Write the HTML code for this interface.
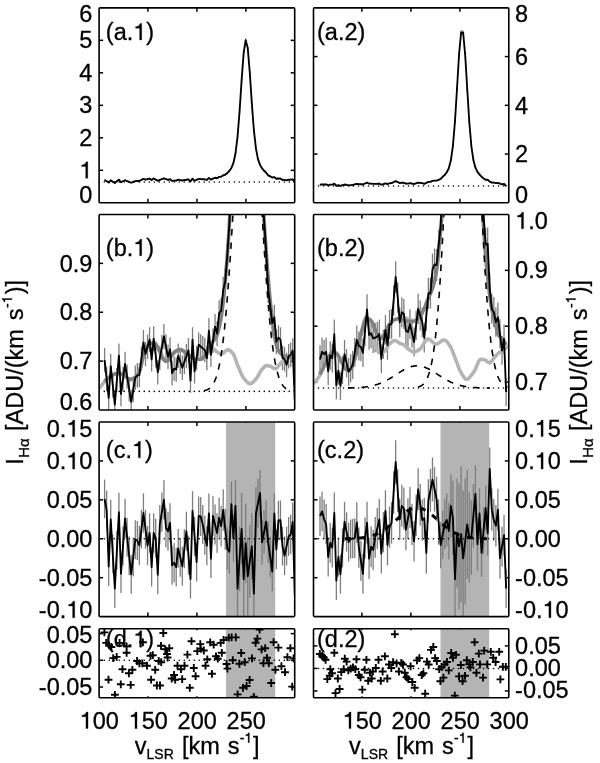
<!DOCTYPE html>
<html><head><meta charset="utf-8"><style>
html,body{margin:0;padding:0;background:#fff;}
svg{display:block;filter:blur(0.35px);}
text{font-family:"Liberation Sans", sans-serif;fill:#000;font-kerning:none;stroke:#000;stroke-width:0.3px;}
</style></head><body>
<svg width="600" height="763" viewBox="0 0 600 763">
<defs><clipPath id="cpaL"><rect x="99.1" y="7.85" width="195.60" height="194.95"/></clipPath><clipPath id="cpaR"><rect x="313.5" y="7.85" width="195.30" height="194.95"/></clipPath><clipPath id="cpbL"><rect x="99.1" y="214.5" width="195.60" height="195.50"/></clipPath><clipPath id="cpbR"><rect x="313.5" y="214.5" width="195.30" height="195.50"/></clipPath><clipPath id="cpcL"><rect x="99.1" y="422.0" width="195.60" height="194.60"/></clipPath><clipPath id="cpcR"><rect x="313.5" y="422.0" width="195.30" height="194.60"/></clipPath><clipPath id="cpdL"><rect x="99.1" y="628.8" width="195.60" height="68.90"/></clipPath><clipPath id="cpdR"><rect x="313.5" y="628.8" width="195.30" height="68.90"/></clipPath></defs>
<line x1="147.90" y1="7.85" x2="147.90" y2="11.85" stroke="#000" stroke-width="1.5"/>
<line x1="147.90" y1="202.8" x2="147.90" y2="198.8" stroke="#000" stroke-width="1.5"/>
<line x1="196.90" y1="7.85" x2="196.90" y2="11.85" stroke="#000" stroke-width="1.5"/>
<line x1="196.90" y1="202.8" x2="196.90" y2="198.8" stroke="#000" stroke-width="1.5"/>
<line x1="245.90" y1="7.85" x2="245.90" y2="11.85" stroke="#000" stroke-width="1.5"/>
<line x1="245.90" y1="202.8" x2="245.90" y2="198.8" stroke="#000" stroke-width="1.5"/>
<line x1="361.90" y1="7.85" x2="361.90" y2="11.85" stroke="#000" stroke-width="1.5"/>
<line x1="361.90" y1="202.8" x2="361.90" y2="198.8" stroke="#000" stroke-width="1.5"/>
<line x1="410.90" y1="7.85" x2="410.90" y2="11.85" stroke="#000" stroke-width="1.5"/>
<line x1="410.90" y1="202.8" x2="410.90" y2="198.8" stroke="#000" stroke-width="1.5"/>
<line x1="459.90" y1="7.85" x2="459.90" y2="11.85" stroke="#000" stroke-width="1.5"/>
<line x1="459.90" y1="202.8" x2="459.90" y2="198.8" stroke="#000" stroke-width="1.5"/>
<line x1="147.90" y1="214.5" x2="147.90" y2="218.5" stroke="#000" stroke-width="1.5"/>
<line x1="147.90" y1="410.0" x2="147.90" y2="406.0" stroke="#000" stroke-width="1.5"/>
<line x1="196.90" y1="214.5" x2="196.90" y2="218.5" stroke="#000" stroke-width="1.5"/>
<line x1="196.90" y1="410.0" x2="196.90" y2="406.0" stroke="#000" stroke-width="1.5"/>
<line x1="245.90" y1="214.5" x2="245.90" y2="218.5" stroke="#000" stroke-width="1.5"/>
<line x1="245.90" y1="410.0" x2="245.90" y2="406.0" stroke="#000" stroke-width="1.5"/>
<line x1="361.90" y1="214.5" x2="361.90" y2="218.5" stroke="#000" stroke-width="1.5"/>
<line x1="361.90" y1="410.0" x2="361.90" y2="406.0" stroke="#000" stroke-width="1.5"/>
<line x1="410.90" y1="214.5" x2="410.90" y2="218.5" stroke="#000" stroke-width="1.5"/>
<line x1="410.90" y1="410.0" x2="410.90" y2="406.0" stroke="#000" stroke-width="1.5"/>
<line x1="459.90" y1="214.5" x2="459.90" y2="218.5" stroke="#000" stroke-width="1.5"/>
<line x1="459.90" y1="410.0" x2="459.90" y2="406.0" stroke="#000" stroke-width="1.5"/>
<line x1="147.90" y1="422.0" x2="147.90" y2="426.0" stroke="#000" stroke-width="1.5"/>
<line x1="147.90" y1="616.6" x2="147.90" y2="612.6" stroke="#000" stroke-width="1.5"/>
<line x1="196.90" y1="422.0" x2="196.90" y2="426.0" stroke="#000" stroke-width="1.5"/>
<line x1="196.90" y1="616.6" x2="196.90" y2="612.6" stroke="#000" stroke-width="1.5"/>
<line x1="245.90" y1="422.0" x2="245.90" y2="426.0" stroke="#000" stroke-width="1.5"/>
<line x1="245.90" y1="616.6" x2="245.90" y2="612.6" stroke="#000" stroke-width="1.5"/>
<line x1="361.90" y1="422.0" x2="361.90" y2="426.0" stroke="#000" stroke-width="1.5"/>
<line x1="361.90" y1="616.6" x2="361.90" y2="612.6" stroke="#000" stroke-width="1.5"/>
<line x1="410.90" y1="422.0" x2="410.90" y2="426.0" stroke="#000" stroke-width="1.5"/>
<line x1="410.90" y1="616.6" x2="410.90" y2="612.6" stroke="#000" stroke-width="1.5"/>
<line x1="459.90" y1="422.0" x2="459.90" y2="426.0" stroke="#000" stroke-width="1.5"/>
<line x1="459.90" y1="616.6" x2="459.90" y2="612.6" stroke="#000" stroke-width="1.5"/>
<line x1="147.90" y1="628.8" x2="147.90" y2="630.3" stroke="#000" stroke-width="1.5"/>
<line x1="147.90" y1="697.7" x2="147.90" y2="696.2" stroke="#000" stroke-width="1.5"/>
<line x1="196.90" y1="628.8" x2="196.90" y2="630.3" stroke="#000" stroke-width="1.5"/>
<line x1="196.90" y1="697.7" x2="196.90" y2="696.2" stroke="#000" stroke-width="1.5"/>
<line x1="245.90" y1="628.8" x2="245.90" y2="630.3" stroke="#000" stroke-width="1.5"/>
<line x1="245.90" y1="697.7" x2="245.90" y2="696.2" stroke="#000" stroke-width="1.5"/>
<line x1="361.90" y1="628.8" x2="361.90" y2="630.3" stroke="#000" stroke-width="1.5"/>
<line x1="361.90" y1="697.7" x2="361.90" y2="696.2" stroke="#000" stroke-width="1.5"/>
<line x1="410.90" y1="628.8" x2="410.90" y2="630.3" stroke="#000" stroke-width="1.5"/>
<line x1="410.90" y1="697.7" x2="410.90" y2="696.2" stroke="#000" stroke-width="1.5"/>
<line x1="459.90" y1="628.8" x2="459.90" y2="630.3" stroke="#000" stroke-width="1.5"/>
<line x1="459.90" y1="697.7" x2="459.90" y2="696.2" stroke="#000" stroke-width="1.5"/>
<line x1="99.1" y1="170.31" x2="103.1" y2="170.31" stroke="#000" stroke-width="1.5"/>
<line x1="294.7" y1="170.31" x2="290.7" y2="170.31" stroke="#000" stroke-width="1.5"/>
<line x1="99.1" y1="137.82" x2="103.1" y2="137.82" stroke="#000" stroke-width="1.5"/>
<line x1="294.7" y1="137.82" x2="290.7" y2="137.82" stroke="#000" stroke-width="1.5"/>
<line x1="99.1" y1="105.33" x2="103.1" y2="105.33" stroke="#000" stroke-width="1.5"/>
<line x1="294.7" y1="105.33" x2="290.7" y2="105.33" stroke="#000" stroke-width="1.5"/>
<line x1="99.1" y1="72.83" x2="103.1" y2="72.83" stroke="#000" stroke-width="1.5"/>
<line x1="294.7" y1="72.83" x2="290.7" y2="72.83" stroke="#000" stroke-width="1.5"/>
<line x1="99.1" y1="40.34" x2="103.1" y2="40.34" stroke="#000" stroke-width="1.5"/>
<line x1="294.7" y1="40.34" x2="290.7" y2="40.34" stroke="#000" stroke-width="1.5"/>
<line x1="313.5" y1="154.06" x2="317.5" y2="154.06" stroke="#000" stroke-width="1.5"/>
<line x1="508.8" y1="154.06" x2="504.8" y2="154.06" stroke="#000" stroke-width="1.5"/>
<line x1="313.5" y1="105.33" x2="317.5" y2="105.33" stroke="#000" stroke-width="1.5"/>
<line x1="508.8" y1="105.33" x2="504.8" y2="105.33" stroke="#000" stroke-width="1.5"/>
<line x1="313.5" y1="56.59" x2="317.5" y2="56.59" stroke="#000" stroke-width="1.5"/>
<line x1="508.8" y1="56.59" x2="504.8" y2="56.59" stroke="#000" stroke-width="1.5"/>
<line x1="99.1" y1="361.12" x2="103.1" y2="361.12" stroke="#000" stroke-width="1.5"/>
<line x1="294.7" y1="361.12" x2="290.7" y2="361.12" stroke="#000" stroke-width="1.5"/>
<line x1="99.1" y1="312.25" x2="103.1" y2="312.25" stroke="#000" stroke-width="1.5"/>
<line x1="294.7" y1="312.25" x2="290.7" y2="312.25" stroke="#000" stroke-width="1.5"/>
<line x1="99.1" y1="263.38" x2="103.1" y2="263.38" stroke="#000" stroke-width="1.5"/>
<line x1="294.7" y1="263.38" x2="290.7" y2="263.38" stroke="#000" stroke-width="1.5"/>
<line x1="313.5" y1="382.07" x2="317.5" y2="382.07" stroke="#000" stroke-width="1.5"/>
<line x1="508.8" y1="382.07" x2="504.8" y2="382.07" stroke="#000" stroke-width="1.5"/>
<line x1="313.5" y1="326.21" x2="317.5" y2="326.21" stroke="#000" stroke-width="1.5"/>
<line x1="508.8" y1="326.21" x2="504.8" y2="326.21" stroke="#000" stroke-width="1.5"/>
<line x1="313.5" y1="270.36" x2="317.5" y2="270.36" stroke="#000" stroke-width="1.5"/>
<line x1="508.8" y1="270.36" x2="504.8" y2="270.36" stroke="#000" stroke-width="1.5"/>
<line x1="99.1" y1="577.68" x2="103.1" y2="577.68" stroke="#000" stroke-width="1.5"/>
<line x1="294.7" y1="577.68" x2="290.7" y2="577.68" stroke="#000" stroke-width="1.5"/>
<line x1="99.1" y1="538.76" x2="103.1" y2="538.76" stroke="#000" stroke-width="1.5"/>
<line x1="294.7" y1="538.76" x2="290.7" y2="538.76" stroke="#000" stroke-width="1.5"/>
<line x1="99.1" y1="499.84" x2="103.1" y2="499.84" stroke="#000" stroke-width="1.5"/>
<line x1="294.7" y1="499.84" x2="290.7" y2="499.84" stroke="#000" stroke-width="1.5"/>
<line x1="99.1" y1="460.92" x2="103.1" y2="460.92" stroke="#000" stroke-width="1.5"/>
<line x1="294.7" y1="460.92" x2="290.7" y2="460.92" stroke="#000" stroke-width="1.5"/>
<line x1="313.5" y1="577.68" x2="317.5" y2="577.68" stroke="#000" stroke-width="1.5"/>
<line x1="508.8" y1="577.68" x2="504.8" y2="577.68" stroke="#000" stroke-width="1.5"/>
<line x1="313.5" y1="538.76" x2="317.5" y2="538.76" stroke="#000" stroke-width="1.5"/>
<line x1="508.8" y1="538.76" x2="504.8" y2="538.76" stroke="#000" stroke-width="1.5"/>
<line x1="313.5" y1="499.84" x2="317.5" y2="499.84" stroke="#000" stroke-width="1.5"/>
<line x1="508.8" y1="499.84" x2="504.8" y2="499.84" stroke="#000" stroke-width="1.5"/>
<line x1="313.5" y1="460.92" x2="317.5" y2="460.92" stroke="#000" stroke-width="1.5"/>
<line x1="508.8" y1="460.92" x2="504.8" y2="460.92" stroke="#000" stroke-width="1.5"/>
<line x1="99.1" y1="687.02" x2="103.1" y2="687.02" stroke="#000" stroke-width="1.5"/>
<line x1="294.7" y1="687.02" x2="290.7" y2="687.02" stroke="#000" stroke-width="1.5"/>
<line x1="99.1" y1="660.31" x2="103.1" y2="660.31" stroke="#000" stroke-width="1.5"/>
<line x1="294.7" y1="660.31" x2="290.7" y2="660.31" stroke="#000" stroke-width="1.5"/>
<line x1="99.1" y1="633.61" x2="103.1" y2="633.61" stroke="#000" stroke-width="1.5"/>
<line x1="294.7" y1="633.61" x2="290.7" y2="633.61" stroke="#000" stroke-width="1.5"/>
<line x1="313.5" y1="690.95" x2="317.5" y2="690.95" stroke="#000" stroke-width="1.5"/>
<line x1="508.8" y1="690.95" x2="504.8" y2="690.95" stroke="#000" stroke-width="1.5"/>
<line x1="313.5" y1="668.43" x2="317.5" y2="668.43" stroke="#000" stroke-width="1.5"/>
<line x1="508.8" y1="668.43" x2="504.8" y2="668.43" stroke="#000" stroke-width="1.5"/>
<line x1="313.5" y1="645.91" x2="317.5" y2="645.91" stroke="#000" stroke-width="1.5"/>
<line x1="508.8" y1="645.91" x2="504.8" y2="645.91" stroke="#000" stroke-width="1.5"/>
<rect x="226.00" y="422.50" width="49.20" height="193.60" fill="#b4b4b4"/>
<rect x="440.50" y="422.50" width="48.70" height="193.60" fill="#b4b4b4"/>
<rect x="226.00" y="629.30" width="49.20" height="67.90" fill="#b4b4b4"/>
<rect x="440.50" y="629.30" width="48.70" height="67.90" fill="#b4b4b4"/>
<text x="105.84" y="39.90" font-size="23.5">(a. )</text><path d="M141.70,23.38L141.70,39.90L139.64,39.90L139.64,28.15L135.64,28.15L135.64,26.62C138.08,26.46 139.57,25.45 140.08,23.38Z" fill="#000" stroke="#000" stroke-width="0.3"/>
<text x="317.04" y="39.90" font-size="23.5">(a.2)</text>
<text x="105.84" y="255.70" font-size="23.5">(b. )</text><path d="M141.70,239.18L141.70,255.70L139.64,255.70L139.64,243.95L135.64,243.95L135.64,242.42C138.08,242.26 139.57,241.25 140.08,239.18Z" fill="#000" stroke="#000" stroke-width="0.3"/>
<text x="317.04" y="255.70" font-size="23.5">(b.2)</text>
<text x="105.84" y="457.80" font-size="23.5">(c. )</text><path d="M140.38,441.28L140.38,457.80L138.32,457.80L138.32,446.05L134.32,446.05L134.32,444.52C136.76,444.36 138.25,443.35 138.76,441.28Z" fill="#000" stroke="#000" stroke-width="0.3"/>
<text x="317.04" y="457.80" font-size="23.5">(c.2)</text>
<text x="105.84" y="647.30" font-size="23.5">(d. )</text><path d="M141.70,630.78L141.70,647.30L139.64,647.30L139.64,635.55L135.64,635.55L135.64,634.02C138.08,633.86 139.57,632.85 140.08,630.78Z" fill="#000" stroke="#000" stroke-width="0.3"/>
<text x="317.04" y="647.30" font-size="23.5">(d.2)</text>
<g clip-path="url(#cpaL)">
<line x1="99.30" y1="182.07" x2="297.60" y2="182.07" stroke="#000" stroke-width="1.6" stroke-linecap="round" stroke-dasharray="0.01 4.99"/>
<path d="M104.60,179.18V180.80 M106.64,180.43V182.06 M108.69,181.69V183.31 M110.73,179.58V181.21 M112.78,180.86V182.48 M114.82,182.13V183.76 M116.87,180.50V182.13 M118.91,178.88V180.50 M120.96,181.43V183.05 M123.00,180.43V182.06 M125.05,179.43V181.06 M127.09,180.27V181.90 M129.14,181.11V182.73 M131.19,181.95V183.57 M133.23,181.15V182.77 M135.27,180.35V181.97 M137.32,180.19V181.81 M139.37,180.17V181.80 M141.41,179.09V180.71 M143.45,177.99V179.63 M145.50,178.77V180.39 M147.54,178.29V179.92 M149.59,177.80V179.45 M151.63,179.13V180.75 M153.68,177.74V179.38 M155.72,178.87V180.49 M157.77,179.99V181.62 M159.81,179.04V180.67 M161.86,178.32V179.95 M163.91,177.59V179.24 M165.95,178.27V179.91 M168.00,178.95V180.57 M170.04,178.46V180.09 M172.08,180.05V181.67 M174.13,179.74V181.37 M176.18,179.80V181.42 M178.22,178.89V180.51 M180.26,179.29V180.91 M182.31,179.68V181.31 M184.35,179.30V180.92 M186.40,178.91V180.53 M188.44,178.52V180.15 M190.49,180.54V182.16 M192.53,177.80V179.45 M194.58,179.93V181.55 M196.62,179.04V180.67 M198.67,178.15V179.79 M200.71,178.27V179.90 M202.76,178.39V180.02 M204.81,178.51V180.14 M206.85,179.06V180.69 M208.89,177.20V178.86 M210.94,178.83V180.45 M212.98,177.88V179.52 M215.03,176.93V178.59 M217.07,177.40V179.05 M219.12,176.01V177.70 M221.16,175.85V177.54 M223.21,174.47V176.19 M225.25,173.86V175.60 M227.30,172.15V173.92 M229.34,170.05V171.87 M231.39,167.07V168.96 M233.44,161.96V163.94 M235.48,152.50V154.64 M237.52,135.69V138.08 M239.57,110.02V112.71 M241.61,78.86V81.86 M243.66,51.34V54.57 M245.70,38.59V41.91 M247.75,46.48V49.75 M249.79,71.13V74.20 M251.84,101.93V104.70 M253.88,128.84V131.31 M255.93,147.36V149.58 M257.98,158.12V160.16 M260.02,163.93V165.87 M262.06,167.38V169.26 M264.11,169.84V171.66 M266.15,171.87V173.65 M268.20,174.47V176.19 M270.25,175.58V177.28 M272.29,176.69V178.36 M274.33,176.31V177.99 M276.38,177.96V179.60 M278.42,177.67V179.32 M280.47,177.81V179.45 M282.51,179.02V180.64 M284.56,179.12V180.74 M286.61,179.49V181.12 M288.65,178.92V180.55 M290.69,178.82V180.45 M292.74,178.54V180.16 M294.78,181.83V183.45" stroke="#7d7d7d" stroke-width="1.3" fill="none"/>
<path d="M104.60,179.99 L106.64,181.24 L108.69,182.50 L110.73,180.39 L112.78,181.67 L114.82,182.95 L116.87,181.32 L118.91,179.69 L120.96,182.24 L123.00,181.24 L125.05,180.25 L127.09,181.08 L129.14,181.92 L131.19,182.76 L133.23,181.96 L135.27,181.16 L137.32,181.00 L139.37,180.98 L141.41,179.90 L143.45,178.81 L145.50,179.58 L147.54,179.10 L149.59,178.62 L151.63,179.94 L153.68,178.56 L155.72,179.68 L157.77,180.81 L159.81,179.85 L161.86,179.14 L163.91,178.42 L165.95,179.09 L168.00,179.76 L170.04,179.28 L172.08,180.86 L174.13,180.55 L176.18,180.61 L178.22,179.70 L180.26,180.10 L182.31,180.49 L184.35,180.11 L186.40,179.72 L188.44,179.34 L190.49,181.35 L192.53,178.62 L194.58,180.74 L196.62,179.85 L198.67,178.97 L200.71,179.09 L202.76,179.21 L204.81,179.32 L206.85,179.87 L208.89,178.03 L210.94,179.64 L212.98,178.70 L215.03,177.76 L217.07,178.23 L219.12,176.86 L221.16,176.70 L223.21,175.33 L225.25,174.73 L227.30,173.03 L229.34,170.96 L231.39,168.01 L233.44,162.95 L235.48,153.57 L237.52,136.88 L239.57,111.37 L241.61,80.36 L243.66,52.96 L245.70,40.25 L247.75,48.11 L249.79,72.66 L251.84,103.32 L253.88,130.08 L255.93,148.47 L257.98,159.14 L260.02,164.90 L262.06,168.32 L264.11,170.75 L266.15,172.76 L268.20,175.33 L270.25,176.43 L272.29,177.53 L274.33,177.15 L276.38,178.78 L278.42,178.49 L280.47,178.63 L282.51,179.83 L284.56,179.93 L286.61,180.31 L288.65,179.74 L290.69,179.64 L292.74,179.35 L294.78,182.64" stroke="#000" stroke-width="1.85" fill="none" stroke-linejoin="round"/>
</g>
<g clip-path="url(#cpaR)">
<line x1="313.50" y1="185.99" x2="511.80" y2="185.99" stroke="#000" stroke-width="1.6" stroke-linecap="round" stroke-dasharray="0.01 4.99"/>
<path d="M320.00,184.14V185.38 M322.05,183.80V185.05 M324.09,183.90V185.15 M326.13,183.80V185.05 M328.18,184.66V185.88 M330.23,183.96V185.20 M332.27,184.09V185.32 M334.31,183.01V184.29 M336.36,185.28V186.50 M338.40,184.64V185.86 M340.45,185.30V186.52 M342.50,184.61V185.83 M344.54,183.90V185.15 M346.58,184.30V185.53 M348.63,184.69V185.91 M350.68,184.53V185.75 M352.72,184.37V185.60 M354.76,183.82V185.07 M356.81,183.27V184.54 M358.86,183.54V184.80 M360.90,183.58V184.84 M362.94,183.84V185.09 M364.99,182.88V184.16 M367.03,181.91V183.23 M369.08,183.05V184.33 M371.12,182.97V184.25 M373.17,183.20V184.47 M375.21,183.16V184.44 M377.26,183.13V184.40 M379.31,183.01V184.29 M381.35,184.11V185.35 M383.39,183.46V184.73 M385.44,182.82V184.10 M387.49,183.50V184.76 M389.53,182.59V183.89 M391.57,182.56V183.85 M393.62,181.52V182.85 M395.66,180.47V181.84 M397.71,181.38V182.72 M399.75,182.49V183.79 M401.80,182.04V183.35 M403.85,182.12V183.43 M405.89,182.87V184.16 M407.94,182.92V184.20 M409.98,182.57V183.86 M412.02,182.96V184.24 M414.07,183.36V184.63 M416.12,182.62V183.92 M418.16,181.89V183.20 M420.20,182.19V183.50 M422.25,182.49V183.79 M424.30,183.17V184.45 M426.34,182.19V183.50 M428.38,181.21V182.55 M430.43,181.18V182.53 M432.48,180.15V181.52 M434.52,179.92V181.31 M436.56,179.94V181.33 M438.61,179.09V180.50 M440.65,178.26V179.70 M442.70,176.04V177.55 M444.75,174.03V175.61 M446.79,171.40V173.06 M448.84,167.21V168.98 M450.88,159.36V161.34 M452.92,144.65V146.98 M454.97,120.11V122.94 M457.01,86.73V90.15 M459.06,52.49V56.43 M461.11,30.34V34.60 M463.15,30.59V34.84 M465.19,53.08V57.01 M467.24,87.33V90.73 M469.28,120.41V123.23 M471.33,144.60V146.93 M473.38,159.09V161.08 M475.42,166.82V168.60 M477.47,170.99V172.65 M479.51,173.69V175.28 M481.56,175.89V177.41 M483.60,177.78V179.24 M485.64,179.04V180.45 M487.69,179.00V180.42 M489.74,180.99V182.34 M491.78,181.88V183.20 M493.82,182.03V183.34 M495.87,182.47V183.77 M497.91,182.27V183.57 M499.96,183.00V184.28 M502.00,183.74V184.99 M504.05,183.23V184.50 M506.10,185.57V186.78" stroke="#7d7d7d" stroke-width="1.3" fill="none"/>
<path d="M320.00,184.76 L322.05,184.42 L324.09,184.53 L326.13,184.42 L328.18,185.27 L330.23,184.58 L332.27,184.70 L334.31,183.65 L336.36,185.89 L338.40,185.25 L340.45,185.91 L342.50,185.22 L344.54,184.53 L346.58,184.91 L348.63,185.30 L350.68,185.14 L352.72,184.99 L354.76,184.45 L356.81,183.91 L358.86,184.17 L360.90,184.21 L362.94,184.46 L364.99,183.52 L367.03,182.57 L369.08,183.69 L371.12,183.61 L373.17,183.84 L375.21,183.80 L377.26,183.76 L379.31,183.65 L381.35,184.73 L383.39,184.09 L385.44,183.46 L387.49,184.13 L389.53,183.24 L391.57,183.20 L393.62,182.18 L395.66,181.16 L397.71,182.05 L399.75,183.14 L401.80,182.69 L403.85,182.77 L405.89,183.51 L407.94,183.56 L409.98,183.21 L412.02,183.60 L414.07,183.99 L416.12,183.27 L418.16,182.55 L420.20,182.84 L422.25,183.14 L424.30,183.81 L426.34,182.84 L428.38,181.88 L430.43,181.86 L432.48,180.84 L434.52,180.61 L436.56,180.63 L438.61,179.80 L440.65,178.98 L442.70,176.79 L444.75,174.82 L446.79,172.23 L448.84,168.09 L450.88,160.35 L452.92,145.81 L454.97,121.52 L457.01,88.44 L459.06,54.46 L461.11,32.47 L463.15,32.72 L465.19,55.04 L467.24,89.03 L469.28,121.82 L471.33,145.77 L473.38,160.09 L475.42,167.71 L477.47,171.82 L479.51,174.49 L481.56,176.65 L483.60,178.51 L485.64,179.74 L487.69,179.71 L489.74,181.66 L491.78,182.54 L493.82,182.68 L495.87,183.12 L497.91,182.92 L499.96,183.64 L502.00,184.36 L504.05,183.86 L506.10,186.18" stroke="#000" stroke-width="1.85" fill="none" stroke-linejoin="round"/>
</g>
<g clip-path="url(#cpbL)">
<path d="M104.60,347.88V372.32 M106.64,366.78V391.22 M108.69,385.68V410.12 M110.73,353.98V378.42 M112.78,373.18V397.62 M114.82,392.38V416.82 M116.87,367.88V392.32 M118.91,343.38V367.82 M120.96,381.78V406.22 M123.00,366.78V391.22 M125.05,351.78V376.22 M127.09,364.38V388.82 M129.14,376.98V401.42 M131.19,389.58V414.02 M133.23,377.53V401.97 M135.27,365.48V389.92 M137.32,363.08V387.52 M139.37,362.88V387.32 M141.41,346.53V370.97 M143.45,330.07V354.73 M145.50,341.78V366.22 M147.54,334.52V359.08 M149.59,327.23V351.97 M151.63,347.18V371.62 M153.68,326.22V350.98 M155.72,343.28V367.72 M157.77,360.18V384.62 M159.81,345.88V370.32 M161.86,335.03V359.57 M163.91,324.09V348.91 M165.95,334.32V358.88 M168.00,344.48V368.92 M170.04,337.16V361.64 M172.08,360.98V385.42 M174.13,356.38V380.82 M176.18,357.28V381.72 M178.22,343.58V368.02 M180.26,349.53V373.97 M182.31,355.48V379.92 M184.35,349.68V374.12 M186.40,343.88V368.32 M188.44,338.07V362.53 M190.49,368.38V392.82 M192.53,327.23V351.97 M194.58,359.18V383.62 M196.62,345.88V370.32 M198.67,332.50V357.10 M200.71,334.29V358.85 M202.76,336.08V360.59 M204.81,337.87V362.33 M206.85,346.18V370.62 M208.89,318.22V343.18 M210.94,342.68V367.12 M212.98,328.40V353.10 M215.03,314.07V339.13 M217.07,321.16V346.04 M219.12,300.30V325.70 M221.16,297.88V323.32 M223.21,277.03V302.97 M225.25,267.96V294.10 M227.30,242.15V268.86 M229.34,210.62V238.01 M231.39,165.85V194.15 M233.44,88.90V118.66 M235.48,-53.34V-21.16 M237.52,-306.20V-270.35 M239.57,-692.34V-651.87 M241.61,-1161.06V-1115.97 M243.66,-1575.01V-1526.43 M245.70,-1766.92V-1716.85 M247.75,-1648.21V-1599.05 M249.79,-1277.36V-1231.25 M251.84,-814.11V-772.36 M253.88,-409.25V-372.08 M255.93,-130.69V-97.32 M257.98,31.14V61.92 M260.02,118.57V147.79 M262.06,170.50V198.70 M264.11,207.45V234.90 M266.15,238.03V264.83 M268.20,277.03V302.97 M270.25,293.78V319.32 M272.29,310.53V335.67 M274.33,304.76V330.04 M276.38,329.56V354.24 M278.42,325.21V349.99 M280.47,327.33V352.07 M282.51,345.48V369.92 M284.56,346.98V371.42 M286.61,352.68V377.12 M288.65,344.08V368.52 M290.69,342.58V367.02 M292.74,338.27V362.73 M294.78,387.78V412.22" stroke="#7d7d7d" stroke-width="1.3" fill="none"/>
<path d="M98.90,388.50 L99.39,387.91 L99.88,387.32 L100.37,386.74 L100.86,386.15 L101.35,385.57 L101.84,384.98 L102.33,384.40 L102.82,383.81 L103.31,383.20 L103.80,382.58 L104.30,381.96 L104.79,381.35 L105.28,380.77 L105.77,380.23 L106.26,379.73 L106.75,379.29 L107.24,378.86 L107.73,378.44 L108.22,378.04 L108.71,377.66 L109.20,377.29 L109.69,376.93 L110.18,376.59 L110.67,376.27 L111.16,375.96 L111.65,375.67 L112.14,375.39 L112.63,375.13 L113.12,374.86 L113.61,374.58 L114.10,374.30 L114.60,374.03 L115.09,373.79 L115.58,373.59 L116.07,373.43 L116.56,373.33 L117.05,373.30 L117.54,373.30 L118.03,373.31 L118.52,373.33 L119.01,373.35 L119.50,373.37 L119.99,373.40 L120.48,373.47 L120.97,373.63 L121.46,373.87 L121.95,374.15 L122.44,374.49 L122.93,374.85 L123.42,375.22 L123.91,375.59 L124.40,375.95 L124.90,376.28 L125.39,376.58 L125.88,376.92 L126.37,377.28 L126.86,377.67 L127.35,378.05 L127.84,378.41 L128.33,378.74 L128.82,379.02 L129.31,379.23 L129.80,379.36 L130.29,379.40 L130.78,379.35 L131.27,379.25 L131.76,379.10 L132.25,378.90 L132.74,378.67 L133.23,378.42 L133.72,378.15 L134.21,377.87 L134.70,377.58 L135.20,377.24 L135.69,376.85 L136.18,376.39 L136.67,375.88 L137.16,375.30 L137.65,374.66 L138.14,373.93 L138.63,373.00 L139.12,371.88 L139.61,370.60 L140.10,369.20 L140.59,367.67 L141.08,365.73 L141.57,363.48 L142.06,361.15 L142.55,358.97 L143.04,357.16 L143.53,355.63 L144.02,354.22 L144.51,352.92 L145.00,351.73 L145.50,350.62 L145.99,349.57 L146.48,348.50 L146.97,347.46 L147.46,346.50 L147.95,345.66 L148.44,345.00 L148.93,344.54 L149.42,344.26 L149.91,344.00 L150.40,343.75 L150.89,343.53 L151.38,343.34 L151.87,343.17 L152.36,343.03 L152.85,342.92 L153.34,342.85 L153.83,342.81 L154.32,342.83 L154.81,343.09 L155.30,343.58 L155.80,344.23 L156.29,344.99 L156.78,345.81 L157.27,346.63 L157.76,347.42 L158.25,348.34 L158.74,349.37 L159.23,350.44 L159.72,351.51 L160.21,352.54 L160.70,353.66 L161.19,354.83 L161.68,355.99 L162.17,357.09 L162.66,358.05 L163.15,358.82 L163.64,359.40 L164.13,359.97 L164.62,360.49 L165.11,360.91 L165.60,361.19 L166.10,361.30 L166.59,361.21 L167.08,360.94 L167.57,360.53 L168.06,360.02 L168.55,359.43 L169.04,358.79 L169.53,358.13 L170.02,357.50 L170.51,356.91 L171.00,356.37 L171.49,355.78 L171.98,355.16 L172.47,354.52 L172.96,353.89 L173.45,353.27 L173.94,352.70 L174.43,352.19 L174.92,351.76 L175.41,351.43 L175.90,351.13 L176.40,350.84 L176.89,350.57 L177.38,350.31 L177.87,350.08 L178.36,349.89 L178.85,349.74 L179.34,349.64 L179.83,349.60 L180.32,349.63 L180.81,349.72 L181.30,349.87 L181.79,350.08 L182.28,350.32 L182.77,350.60 L183.26,350.90 L183.75,351.22 L184.24,351.55 L184.73,351.87 L185.22,352.19 L185.71,352.50 L186.20,352.86 L186.70,353.24 L187.19,353.66 L187.68,354.09 L188.17,354.52 L188.66,354.94 L189.15,355.36 L189.64,355.74 L190.13,356.09 L190.62,356.44 L191.11,356.81 L191.60,357.17 L192.09,357.54 L192.58,357.88 L193.07,358.20 L193.56,358.48 L194.05,358.71 L194.54,358.89 L195.03,359.01 L195.52,359.09 L196.01,359.16 L196.50,359.23 L197.00,359.30 L197.49,359.36 L197.98,359.40 L198.47,359.44 L198.96,359.47 L199.45,359.49 L199.94,359.50 L200.43,359.47 L200.92,359.36 L201.41,359.19 L201.90,358.97 L202.39,358.69 L202.88,358.37 L203.37,358.02 L203.86,357.65 L204.35,357.26 L204.84,356.86 L205.33,356.47 L205.82,356.01 L206.31,355.43 L206.80,354.77 L207.30,354.06 L207.79,353.32 L208.28,352.59 L208.77,351.89 L209.26,351.26 L209.75,350.73 L210.24,350.30 L210.73,349.87 L211.22,349.45 L211.71,349.09 L212.20,348.83 L212.69,348.70 L213.18,348.75 L213.67,348.95 L214.16,349.26 L214.65,349.67 L215.14,350.13 L215.63,350.62 L216.12,351.11 L216.61,351.57 L217.10,351.95 L217.60,352.25 L218.09,352.52 L218.58,352.80 L219.07,353.07 L219.56,353.32 L220.05,353.55 L220.54,353.72 L221.03,353.85 L221.52,353.90 L222.01,353.85 L222.50,353.68 L222.99,353.40 L223.48,353.05 L223.97,352.63 L224.46,352.17 L224.95,351.70 L225.44,351.24 L225.93,350.81 L226.42,350.42 L226.91,350.11 L227.40,349.90 L227.90,349.80 L228.39,349.83 L228.88,349.97 L229.37,350.20 L229.86,350.51 L230.35,350.89 L230.84,351.33 L231.33,351.81 L231.82,352.33 L232.31,352.86 L232.80,353.42 L233.29,354.12 L233.78,355.02 L234.27,356.08 L234.76,357.27 L235.25,358.56 L235.74,359.92 L236.23,361.31 L236.72,362.71 L237.21,364.08 L237.70,365.39 L238.20,366.60 L238.69,367.71 L239.18,368.82 L239.67,369.95 L240.16,371.09 L240.65,372.22 L241.14,373.33 L241.63,374.41 L242.12,375.43 L242.61,376.39 L243.10,377.27 L243.59,378.06 L244.08,378.74 L244.57,379.31 L245.06,379.88 L245.55,380.43 L246.04,380.98 L246.53,381.50 L247.02,381.98 L247.51,382.43 L248.00,382.82 L248.50,383.15 L248.99,383.41 L249.48,383.59 L249.97,383.69 L250.46,383.68 L250.95,383.58 L251.44,383.37 L251.93,383.09 L252.42,382.73 L252.91,382.31 L253.40,381.84 L253.89,381.33 L254.38,380.80 L254.87,380.25 L255.36,379.70 L255.85,379.16 L256.34,378.60 L256.83,377.94 L257.32,377.18 L257.81,376.35 L258.30,375.48 L258.80,374.57 L259.29,373.67 L259.78,372.77 L260.27,371.91 L260.76,371.11 L261.25,370.39 L261.74,369.77 L262.23,369.21 L262.72,368.63 L263.21,368.04 L263.70,367.48 L264.19,366.95 L264.68,366.48 L265.17,366.10 L265.66,365.81 L266.15,365.64 L266.64,365.60 L267.13,365.63 L267.62,365.69 L268.11,365.77 L268.60,365.87 L269.10,365.98 L269.59,366.10 L270.08,366.22 L270.57,366.39 L271.06,366.61 L271.55,366.88 L272.04,367.18 L272.53,367.48 L273.02,367.78 L273.51,368.06 L274.00,368.30 L274.49,368.47 L274.98,368.58 L275.47,368.59 L275.96,368.45 L276.45,368.16 L276.94,367.76 L277.43,367.25 L277.92,366.67 L278.41,366.03 L278.90,365.36 L279.40,364.68 L279.89,364.02 L280.38,363.39 L280.87,362.83 L281.36,362.35 L281.85,361.97 L282.34,361.63 L282.83,361.30 L283.32,360.96 L283.81,360.62 L284.30,360.29 L284.79,359.97 L285.28,359.66 L285.77,359.37 L286.26,359.11 L286.75,358.86 L287.24,358.64 L287.73,358.46 L288.22,358.31 L288.71,358.19 L289.20,358.12 L289.70,358.10 L290.19,358.12 L290.68,358.18 L291.17,358.29 L291.66,358.43 L292.15,358.60 L292.64,358.82 L293.13,359.07 L293.62,359.35 L294.11,359.66 L294.60,360.00" stroke="#b4b4b4" stroke-width="3.6" fill="none"/>
<path d="M104.60,381.58 L104.92,381.19 L105.24,380.82 L105.55,380.46 L105.87,380.12 L106.19,379.80 L106.51,379.50 L106.82,379.22 L107.14,378.94 L107.46,378.67 L107.78,378.40 L108.09,378.14 L108.41,377.89 L108.73,377.64 L109.05,377.40 L109.36,377.17 L109.68,376.94 L110.00,376.72 L110.32,376.50 L110.63,376.30 L110.95,376.09 L111.27,375.90 L111.59,375.71 L111.90,375.53 L112.22,375.35 L112.54,375.18 L112.86,375.01 L113.17,374.83 L113.49,374.65 L113.81,374.47 L114.13,374.29 L114.44,374.11 L114.76,373.95 L115.08,373.80 L115.40,373.66 L115.71,373.54 L116.03,373.44 L116.35,373.37 L116.67,373.32 L116.98,373.30 L117.30,373.30 L117.62,373.31 L117.94,373.31 L118.25,373.32 L118.57,373.33 L118.89,373.34 L119.21,373.36 L119.52,373.37 L119.84,373.39 L120.16,373.41 L120.48,373.47 L120.79,373.57 L121.11,373.69 L121.43,373.85 L121.75,374.03 L122.06,374.23 L122.38,374.44 L122.70,374.67 L123.02,374.91 L123.33,375.15 L123.65,375.39 L123.97,375.63 L124.29,375.86 L124.60,376.08 L124.92,376.29 L125.24,376.48 L125.56,376.69 L125.87,376.91 L126.19,377.15 L126.51,377.39 L126.83,377.64 L127.14,377.89 L127.46,378.13 L127.78,378.37 L128.10,378.59 L128.41,378.79 L128.73,378.97 L129.05,379.13 L129.37,379.25 L129.68,379.34 L130.00,379.39 L130.32,379.40 L130.64,379.37 L130.95,379.32 L131.27,379.25 L131.59,379.16 L131.91,379.05 L132.22,378.92 L132.54,378.77 L132.86,378.62 L133.18,378.45 L133.49,378.28 L133.81,378.10 L134.13,377.91 L134.45,377.73 L134.76,377.54 L135.08,377.32 L135.40,377.09 L135.72,376.82 L136.03,376.53 L136.35,376.22 L136.67,375.87 L136.99,375.51 L137.30,375.11 L137.62,374.69 L137.94,374.24 L138.26,373.73 L138.57,373.12 L138.89,372.42 L139.21,371.66 L139.53,370.83 L139.84,369.95 L140.16,369.02 L140.48,368.05 L140.80,366.91 L141.11,365.59 L141.43,364.14 L141.75,362.64 L142.07,361.13 L142.38,359.69 L142.70,358.38 L143.02,357.24 L143.34,356.23 L143.65,355.28 L143.97,354.37 L144.29,353.51 L144.61,352.69 L144.92,351.92 L145.24,351.18 L145.56,350.49 L145.88,349.81 L146.19,349.12 L146.51,348.43 L146.83,347.75 L147.15,347.10 L147.46,346.49 L147.78,345.93 L148.10,345.44 L148.42,345.02 L148.73,344.70 L149.05,344.47 L149.37,344.29 L149.69,344.12 L150.00,343.95 L150.32,343.79 L150.64,343.64 L150.96,343.51 L151.27,343.38 L151.59,343.26 L151.91,343.16 L152.23,343.06 L152.54,342.99 L152.86,342.92 L153.18,342.87 L153.50,342.83 L153.81,342.81 L154.13,342.80 L154.45,342.87 L154.77,343.06 L155.08,343.34 L155.40,343.69 L155.72,344.12 L156.04,344.59 L156.35,345.10 L156.67,345.63 L156.99,346.17 L157.31,346.69 L157.62,347.20 L157.94,347.75 L158.26,348.37 L158.58,349.02 L158.89,349.70 L159.21,350.40 L159.53,351.10 L159.85,351.78 L160.16,352.44 L160.48,353.15 L160.80,353.89 L161.12,354.65 L161.43,355.41 L161.75,356.15 L162.07,356.86 L162.39,357.53 L162.70,358.12 L163.02,358.63 L163.34,359.04 L163.66,359.42 L163.97,359.79 L164.29,360.14 L164.61,360.47 L164.93,360.76 L165.24,361.00 L165.56,361.17 L165.88,361.28 L166.20,361.30 L166.51,361.23 L166.83,361.09 L167.15,360.89 L167.47,360.63 L167.78,360.32 L168.10,359.97 L168.42,359.59 L168.74,359.18 L169.05,358.77 L169.37,358.34 L169.69,357.92 L170.01,357.51 L170.32,357.12 L170.64,356.76 L170.96,356.42 L171.28,356.05 L171.59,355.66 L171.91,355.25 L172.23,354.84 L172.55,354.43 L172.86,354.01 L173.18,353.61 L173.50,353.22 L173.82,352.84 L174.13,352.49 L174.45,352.17 L174.77,351.89 L175.09,351.64 L175.40,351.44 L175.72,351.24 L176.04,351.05 L176.36,350.87 L176.67,350.68 L176.99,350.51 L177.31,350.34 L177.63,350.19 L177.94,350.05 L178.26,349.92 L178.58,349.82 L178.90,349.73 L179.21,349.66 L179.53,349.62 L179.85,349.60 L180.17,349.61 L180.48,349.65 L180.80,349.72 L181.12,349.81 L181.44,349.92 L181.75,350.06 L182.07,350.21 L182.39,350.38 L182.71,350.56 L183.02,350.75 L183.34,350.95 L183.66,351.16 L183.98,351.37 L184.29,351.58 L184.61,351.79 L184.93,352.00 L185.25,352.20 L185.56,352.40 L185.88,352.62 L186.20,352.85 L186.52,353.10 L186.83,353.36 L187.15,353.63 L187.47,353.90 L187.79,354.18 L188.10,354.46 L188.42,354.74 L188.74,355.01 L189.06,355.28 L189.37,355.53 L189.69,355.77 L190.01,356.00 L190.33,356.22 L190.64,356.45 L190.96,356.69 L191.28,356.92 L191.60,357.16 L191.91,357.39 L192.23,357.62 L192.55,357.84 L192.87,358.05 L193.18,358.24 L193.50,358.42 L193.82,358.58 L194.14,358.71 L194.45,358.83 L194.77,358.91 L195.09,358.97 L195.41,359.02 L195.72,359.07 L196.04,359.11 L196.36,359.15 L196.68,359.18 L196.99,359.22 L197.31,359.24 L197.63,359.27 L197.95,359.29 L198.26,359.30 L198.58,359.31 L198.90,359.32 L199.22,359.32 L199.53,359.31 L199.85,359.29 L200.17,359.27 L200.49,359.21 L200.80,359.12 L201.12,359.00 L201.44,358.84 L201.76,358.67 L202.07,358.46 L202.39,358.24 L202.71,357.99 L203.03,357.73 L203.34,357.45 L203.66,357.15 L203.98,356.84 L204.30,356.52 L204.61,356.20 L204.93,355.86 L205.25,355.52 L205.57,355.16 L205.88,354.73 L206.20,354.25 L206.52,353.73 L206.84,353.16 L207.15,352.56 L207.47,351.94 L207.79,351.30 L208.11,350.65 L208.42,350.00 L208.74,349.35 L209.06,348.72 L209.38,348.10 L209.69,347.51 L210.01,346.95 L210.33,346.40 L210.65,345.81 L210.96,345.20 L211.28,344.59 L211.60,343.98 L211.92,343.38 L212.23,342.80 L212.55,342.25 L212.87,341.75 L213.19,341.28 L213.50,340.84 L213.82,340.42 L214.14,340.01 L214.46,339.60 L214.77,339.18 L215.09,338.74 L215.41,338.27 L215.73,337.75 L216.04,337.19 L216.36,336.56 L216.68,335.86 L217.00,335.07 L217.31,334.19 L217.63,333.21 L217.95,332.17 L218.27,331.07 L218.58,329.90 L218.90,328.67 L219.22,327.35 L219.54,325.96 L219.85,324.48 L220.17,322.90 L220.49,321.22 L220.81,319.44 L221.12,317.55 L221.44,315.55 L221.76,313.41 L222.08,311.14 L222.39,308.72 L222.71,306.16 L223.03,303.46 L223.35,300.63 L223.66,297.67 L223.98,294.59 L224.30,291.38 L224.62,288.06 L224.93,284.62 L225.25,281.07 L225.57,277.41 L225.89,273.63 L226.20,269.75 L226.52,265.76 L226.84,261.66 L227.16,257.45 L227.47,253.11 L227.79,248.65 L228.11,244.05 L228.43,239.29 L228.74,234.33 L229.06,229.15 L229.38,223.72 L229.70,217.98 L230.01,211.89 L230.33,205.40 L230.65,198.45 L230.97,190.96 L231.28,182.85 L231.60,174.04 L231.92,164.41 L232.24,153.87 L232.55,142.28 L232.87,129.54 L233.19,115.55 L233.51,100.18 L233.82,83.26 L234.14,64.61 L234.46,44.04 L234.78,21.37 L235.09,-3.59 L235.41,-31.01 L235.73,-61.09 L236.05,-94.00 L236.36,-129.88 L236.68,-168.87 L237.00,-211.08 L237.32,-256.60 L237.63,-305.47 L237.95,-357.69 L238.27,-413.23 L238.59,-471.99 L238.90,-533.78 L239.22,-598.37 L239.54,-665.49 L239.86,-734.82 L240.17,-805.99 L240.49,-878.54 L240.81,-951.98 L241.13,-1025.76 L241.44,-1099.30 L241.76,-1171.96 L242.08,-1243.08 L242.40,-1311.98 L242.71,-1377.98 L243.03,-1440.39 L243.35,-1498.55 L243.67,-1551.81 L243.98,-1599.58 L244.30,-1641.30 L244.62,-1676.46 L244.94,-1704.61 L245.25,-1725.42 L245.57,-1738.64 L245.89,-1744.12 L246.21,-1741.79 L246.52,-1731.70 L246.84,-1713.98 L247.16,-1688.87 L247.48,-1656.68 L247.79,-1617.81 L248.11,-1572.75 L248.43,-1522.03 L248.75,-1466.24 L249.06,-1406.02 L249.38,-1342.05 L249.70,-1274.99 L250.02,-1205.55 L250.33,-1134.40 L250.65,-1062.22 L250.97,-989.63 L251.29,-917.24 L251.60,-845.60 L251.92,-775.21 L252.24,-706.54 L252.56,-639.96 L252.87,-575.82 L253.19,-514.39 L253.51,-455.88 L253.83,-400.45 L254.14,-348.21 L254.46,-299.21 L254.78,-253.46 L255.10,-210.92 L255.41,-171.53 L255.73,-135.18 L256.05,-101.76 L256.37,-71.15 L256.68,-43.21 L257.00,-17.77 L257.32,5.35 L257.64,26.33 L257.95,45.36 L258.27,62.62 L258.59,78.27 L258.91,92.49 L259.22,105.43 L259.54,117.24 L259.86,128.05 L260.18,138.00 L260.49,147.18 L260.81,155.71 L261.13,163.68 L261.45,171.16 L261.76,178.24 L262.08,184.95 L262.40,191.30 L262.72,197.35 L263.03,203.13 L263.35,208.68 L263.67,214.03 L263.99,219.21 L264.30,224.24 L264.62,229.14 L264.94,233.92 L265.26,238.61 L265.57,243.21 L265.89,247.73 L266.21,252.19 L266.53,256.59 L266.84,260.91 L267.16,265.14 L267.48,269.26 L267.80,273.28 L268.11,277.21 L268.43,281.03 L268.75,284.75 L269.07,288.37 L269.38,291.88 L269.70,295.29 L270.02,298.59 L270.34,301.81 L270.65,304.94 L270.97,308.01 L271.29,310.98 L271.61,313.88 L271.92,316.68 L272.24,319.40 L272.56,322.02 L272.88,324.54 L273.19,326.96 L273.51,329.28 L273.83,331.50 L274.15,333.60 L274.46,335.60 L274.78,337.48 L275.10,339.25 L275.42,340.91 L275.73,342.42 L276.05,343.79 L276.37,345.03 L276.69,346.15 L277.00,347.16 L277.32,348.07 L277.64,348.88 L277.96,349.60 L278.27,350.24 L278.59,350.81 L278.91,351.32 L279.23,351.77 L279.54,352.18 L279.86,352.55 L280.18,352.89 L280.50,353.21 L280.81,353.52 L281.13,353.82 L281.45,354.12 L281.77,354.44 L282.08,354.75 L282.40,355.02 L282.72,355.27 L283.04,355.48 L283.35,355.67 L283.67,355.83 L283.99,355.97 L284.31,356.09 L284.62,356.19 L284.94,356.28 L285.26,356.35 L285.58,356.41 L285.89,356.47 L286.21,356.51 L286.53,356.55 L286.85,356.59 L287.16,356.63 L287.48,356.66 L287.80,356.70 L288.12,356.74 L288.43,356.79 L288.75,356.84 L289.07,356.91 L289.39,356.98 L289.70,357.06 L290.02,357.16 L290.34,357.27 L290.66,357.39 L290.97,357.52 L291.29,357.66 L291.61,357.81 L291.93,357.97 L292.24,358.14 L292.56,358.33 L292.88,358.52 L293.20,358.73 L293.51,358.94 L293.83,359.17 L294.15,359.40 L294.47,359.65 L294.78,359.90" stroke="#808080" stroke-width="3.6" fill="none"/>
<line x1="99.30" y1="391.40" x2="297.60" y2="391.40" stroke="#000" stroke-width="1.6" stroke-linecap="round" stroke-dasharray="0.01 4.99"/>
<path d="M204.00,390.68 L204.27,390.63 L204.55,390.56 L204.82,390.50 L205.10,390.42 L205.37,390.35 L205.65,390.26 L205.92,390.17 L206.20,390.08 L206.47,389.98 L206.75,389.87 L207.02,389.75 L207.30,389.63 L207.57,389.50 L207.85,389.35 L208.12,389.20 L208.40,389.04 L208.67,388.87 L208.95,388.69 L209.22,388.49 L209.50,388.29 L209.77,388.07 L210.05,387.83 L210.32,387.58 L210.60,387.32 L210.87,387.04 L211.15,386.74 L211.42,386.43 L211.70,386.09 L211.97,385.74 L212.25,385.37 L212.52,384.97 L212.80,384.56 L213.07,384.12 L213.35,383.65 L213.62,383.16 L213.90,382.65 L214.17,382.10 L214.45,381.53 L214.72,380.92 L215.00,380.29 L215.27,379.62 L215.55,378.92 L215.82,378.18 L216.10,377.40 L216.37,376.59 L216.65,375.74 L216.92,374.85 L217.20,373.91 L217.47,372.94 L217.75,371.91 L218.02,370.84 L218.30,369.73 L218.57,368.56 L218.85,367.34 L219.12,366.07 L219.40,364.75 L219.67,363.37 L219.95,361.93 L220.22,360.44 L220.49,358.88 L220.77,357.27 L221.04,355.59 L221.32,353.85 L221.59,352.04 L221.87,350.17 L222.14,348.23 L222.42,346.22 L222.69,344.14 L222.97,341.99 L223.24,339.76 L223.52,337.47 L223.79,335.10 L224.07,332.65 L224.34,330.13 L224.62,327.53 L224.89,324.85 L225.17,322.10 L225.44,319.27 L225.72,316.36 L225.99,313.37 L226.27,310.30 L226.54,307.15 L226.82,303.93 L227.09,300.63 L227.37,297.24 L227.64,293.79 L227.92,290.25 L228.19,286.64 L228.47,282.95 L228.74,279.19 L229.02,275.35 L229.29,271.45 L229.57,267.47 L229.84,263.43 L230.12,259.32 L230.39,255.14 L230.67,250.90 L230.94,246.61 L231.22,242.25 L231.49,237.84 L231.77,233.38 L232.04,228.87 L232.32,224.31 L232.59,219.71 L232.87,215.07 L233.14,210.40 L233.42,205.69 L233.69,200.96 L233.97,196.20 L234.24,191.42 L234.52,186.63 L234.79,181.83 L235.07,177.01 L235.34,172.20 L235.62,167.39 L235.89,162.59 L236.17,157.81 L236.44,153.04 L236.72,148.29 L236.99,143.57 L237.26,138.89 L237.54,134.24 L237.81,129.64 L238.09,125.09 L238.36,120.59 L238.64,116.16 L238.91,111.79 L239.19,107.49 L239.46,103.27 L239.74,99.13 L240.01,95.08 L240.29,91.12 L240.56,87.26 L240.84,83.50 L241.11,79.85 L241.39,76.31 L241.66,72.89 L241.94,69.59 L242.21,66.43 L242.49,63.39 L242.76,60.48 L243.04,57.72 L243.31,55.10 L243.59,52.63 L243.86,50.31 L244.14,48.15 L244.41,46.14 L244.69,44.29 L244.96,42.60 L245.24,41.09 L245.51,39.73 L245.79,38.55 L246.06,37.54 L246.34,36.70 L246.61,36.04 L246.89,35.55 L247.16,35.24 L247.44,35.11 L247.71,35.15 L247.99,35.37 L248.26,35.76 L248.54,36.33 L248.81,37.07 L249.09,37.99 L249.36,39.08 L249.64,40.34 L249.91,41.77 L250.19,43.37 L250.46,45.13 L250.74,47.06 L251.01,49.14 L251.29,51.38 L251.56,53.77 L251.84,56.31 L252.11,59.00 L252.39,61.82 L252.66,64.79 L252.94,67.89 L253.21,71.12 L253.48,74.47 L253.76,77.95 L254.03,81.54 L254.31,85.24 L254.58,89.05 L254.86,92.95 L255.13,96.96 L255.41,101.05 L255.68,105.23 L255.96,109.49 L256.23,113.82 L256.51,118.22 L256.78,122.69 L257.06,127.21 L257.33,131.78 L257.61,136.41 L257.88,141.07 L258.16,145.77 L258.43,150.50 L258.71,155.26 L258.98,160.04 L259.26,164.84 L259.53,169.64 L259.81,174.45 L260.08,179.26 L260.36,184.07 L260.63,188.87 L260.91,193.66 L261.18,198.43 L261.46,203.17 L261.73,207.89 L262.01,212.59 L262.28,217.24 L262.56,221.87 L262.83,226.45 L263.11,230.98 L263.38,235.47 L263.66,239.91 L263.93,244.29 L264.21,248.62 L264.48,252.89 L264.76,257.10 L265.03,261.25 L265.31,265.33 L265.58,269.34 L265.86,273.28 L266.13,277.15 L266.41,280.96 L266.68,284.68 L266.96,288.33 L267.23,291.91 L267.51,295.41 L267.78,298.83 L268.06,302.18 L268.33,305.45 L268.61,308.64 L268.88,311.74 L269.16,314.78 L269.43,317.73 L269.71,320.60 L269.98,323.40 L270.25,326.11 L270.53,328.75 L270.80,331.32 L271.08,333.80 L271.35,336.21 L271.63,338.55 L271.90,340.81 L272.18,343.00 L272.45,345.12 L272.73,347.17 L273.00,349.14 L273.28,351.05 L273.55,352.89 L273.83,354.67 L274.10,356.38 L274.38,358.03 L274.65,359.62 L274.93,361.14 L275.20,362.61 L275.48,364.02 L275.75,365.37 L276.03,366.67 L276.30,367.92 L276.58,369.11 L276.85,370.25 L277.13,371.35 L277.40,372.40 L277.68,373.40 L277.95,374.36 L278.23,375.27 L278.50,376.14 L278.78,376.98 L279.05,377.77 L279.33,378.53 L279.60,379.25 L279.88,379.94 L280.15,380.59 L280.43,381.21 L280.70,381.80 L280.98,382.36 L281.25,382.89 L281.53,383.39 L281.80,383.87 L282.08,384.33 L282.35,384.76 L282.63,385.16 L282.90,385.55 L283.18,385.91 L283.45,386.25 L283.73,386.58 L284.00,386.88 L284.28,387.17 L284.55,387.44 L284.83,387.70 L285.10,387.94 L285.38,388.17 L285.65,388.38 L285.93,388.58 L286.20,388.77" stroke="#000" stroke-width="1.6" fill="none" stroke-dasharray="6.5 7"/>
<path d="M104.60,360.10 L106.64,379.00 L108.69,397.90 L110.73,366.20 L112.78,385.40 L114.82,404.60 L116.87,380.10 L118.91,355.60 L120.96,394.00 L123.00,379.00 L125.05,364.00 L127.09,376.60 L129.14,389.20 L131.19,401.80 L133.23,389.75 L135.27,377.70 L137.32,375.30 L139.37,375.10 L141.41,358.75 L143.45,342.40 L145.50,354.00 L147.54,346.80 L149.59,339.60 L151.63,359.40 L153.68,338.60 L155.72,355.50 L157.77,372.40 L159.81,358.10 L161.86,347.30 L163.91,336.50 L165.95,346.60 L168.00,356.70 L170.04,349.40 L172.08,373.20 L174.13,368.60 L176.18,369.50 L178.22,355.80 L180.26,361.75 L182.31,367.70 L184.35,361.90 L186.40,356.10 L188.44,350.30 L190.49,380.60 L192.53,339.60 L194.58,371.40 L196.62,358.10 L198.67,344.80 L200.71,346.57 L202.76,348.33 L204.81,350.10 L206.85,358.40 L208.89,330.70 L210.94,354.90 L212.98,340.75 L215.03,326.60 L217.07,333.60 L219.12,313.00 L221.16,310.60 L223.21,290.00 L225.25,281.03 L227.30,255.50 L229.34,224.31 L231.39,180.00 L233.44,103.78 L235.48,-37.25 L237.52,-288.27 L239.57,-672.11 L241.61,-1138.51 L243.66,-1550.72 L245.70,-1741.89 L247.75,-1623.63 L249.79,-1254.30 L251.84,-793.23 L253.88,-390.66 L255.93,-114.00 L257.98,46.53 L260.02,133.18 L262.06,184.60 L264.11,221.17 L266.15,251.43 L268.20,290.00 L270.25,306.55 L272.29,323.10 L274.33,317.40 L276.38,341.90 L278.42,337.60 L280.47,339.70 L282.51,357.70 L284.56,359.20 L286.61,364.90 L288.65,356.30 L290.69,354.80 L292.74,350.50 L294.78,400.00" stroke="#000" stroke-width="1.85" fill="none" stroke-linejoin="round"/>
</g>
<g clip-path="url(#cpbR)">
<path d="M320.00,345.32V373.68 M322.05,337.47V366.13 M324.09,339.92V368.48 M326.13,337.47V366.13 M328.18,357.34V385.26 M330.23,341.14V369.66 M332.27,344.10V372.50 M334.31,319.55V348.85 M336.36,371.44V399.36 M338.40,356.73V384.67 M340.45,372.04V399.96 M342.50,356.12V384.08 M344.54,339.92V368.48 M346.58,348.94V377.16 M348.63,357.94V385.86 M350.68,354.34V382.36 M352.72,350.72V378.88 M354.76,338.09V366.71 M356.81,325.46V354.54 M358.86,331.57V360.43 M360.90,332.48V361.32 M362.94,338.49V367.11 M364.99,316.39V345.81 M367.03,294.30V324.50 M369.08,320.36V349.64 M371.12,318.63V347.97 M373.17,323.83V352.97 M375.21,322.96V352.14 M377.26,322.09V351.31 M379.31,319.45V348.75 M381.35,344.61V372.99 M383.39,329.84V358.76 M385.44,315.07V344.53 M387.49,330.75V359.65 M389.53,309.88V339.52 M391.57,309.06V338.74 M393.62,285.19V315.71 M395.66,261.33V292.67 M397.71,282.19V312.81 M399.75,307.53V337.27 M401.80,297.15V327.25 M403.85,298.98V329.02 M405.89,316.29V345.71 M407.94,317.31V346.69 M409.98,309.26V338.94 M412.02,318.38V347.72 M414.07,327.49V356.51 M416.12,310.59V340.21 M418.16,293.69V323.91 M420.20,300.61V330.59 M422.25,307.53V337.27 M424.30,323.21V352.39 M426.34,300.66V330.64 M428.38,278.12V308.88 M430.43,277.61V308.39 M432.48,253.80V285.40 M434.52,248.61V280.39 M436.56,249.12V280.88 M438.61,229.59V262.01 M440.65,210.48V243.52 M442.70,159.60V194.28 M444.75,113.69V149.80 M446.79,53.39V91.29 M448.84,-42.82V-2.18 M450.88,-222.65V-177.24 M452.92,-559.88V-506.49 M454.97,-1122.38V-1057.48 M457.01,-1887.40V-1809.09 M459.06,-2672.34V-2581.98 M461.11,-3179.91V-3082.42 M463.15,-3174.25V-3076.84 M465.19,-2658.81V-2568.66 M467.24,-1873.76V-1795.67 M469.28,-1115.50V-1050.73 M471.33,-560.95V-507.54 M473.38,-228.75V-183.19 M475.42,-51.67V-10.78 M477.47,43.85V82.03 M479.51,105.91V142.25 M481.56,156.33V191.12 M483.60,199.63V233.03 M485.64,228.37V260.83 M487.69,227.56V260.04 M489.74,273.13V304.07 M491.78,293.59V323.81 M493.82,296.95V327.05 M495.87,307.13V336.87 M497.91,302.44V332.36 M499.96,319.29V348.61 M502.00,336.15V364.85 M504.05,324.44V353.56 M506.10,378.04V405.96" stroke="#7d7d7d" stroke-width="1.3" fill="none"/>
<path d="M313.40,383.54 L313.89,383.10 L314.38,382.63 L314.87,382.13 L315.36,381.59 L315.85,381.03 L316.34,380.44 L316.83,379.82 L317.32,379.18 L317.81,378.53 L318.30,377.84 L318.79,377.11 L319.28,376.33 L319.77,375.51 L320.26,374.65 L320.75,373.75 L321.24,372.82 L321.73,371.83 L322.22,370.72 L322.70,369.54 L323.19,368.36 L323.68,367.25 L324.17,366.21 L324.66,365.18 L325.15,364.15 L325.64,363.14 L326.13,362.15 L326.62,361.20 L327.11,360.28 L327.60,359.42 L328.09,358.62 L328.58,357.88 L329.07,357.14 L329.56,356.36 L330.05,355.59 L330.54,354.84 L331.03,354.15 L331.52,353.55 L332.01,353.05 L332.50,352.70 L332.99,352.52 L333.48,352.51 L333.97,352.59 L334.46,352.74 L334.95,352.93 L335.44,353.17 L335.93,353.45 L336.42,353.75 L336.91,354.08 L337.40,354.55 L337.89,355.21 L338.38,356.02 L338.87,356.93 L339.36,357.91 L339.85,358.92 L340.33,359.91 L340.82,360.86 L341.31,361.71 L341.80,362.48 L342.29,363.30 L342.78,364.16 L343.27,365.05 L343.76,365.93 L344.25,366.79 L344.74,367.59 L345.23,368.32 L345.72,368.94 L346.21,369.45 L346.70,369.80 L347.19,369.98 L347.68,369.99 L348.17,369.94 L348.66,369.85 L349.15,369.72 L349.64,369.56 L350.13,369.36 L350.62,369.14 L351.11,368.85 L351.60,368.17 L352.09,367.13 L352.58,365.79 L353.07,364.27 L353.56,362.63 L354.05,360.97 L354.54,359.38 L355.03,357.75 L355.52,355.97 L356.01,354.06 L356.50,352.07 L356.99,350.03 L357.48,347.97 L357.96,345.92 L358.45,343.90 L358.94,341.97 L359.43,340.12 L359.92,338.26 L360.41,336.40 L360.90,334.60 L361.39,332.90 L361.88,331.35 L362.37,329.88 L362.86,328.33 L363.35,326.76 L363.84,325.24 L364.33,323.84 L364.82,322.65 L365.31,321.73 L365.80,321.15 L366.29,321.01 L366.78,321.28 L367.27,321.89 L367.76,322.76 L368.25,323.80 L368.74,324.94 L369.23,326.10 L369.72,327.30 L370.21,328.79 L370.70,330.47 L371.19,332.23 L371.68,333.95 L372.17,335.52 L372.66,337.09 L373.15,338.68 L373.64,340.25 L374.13,341.78 L374.62,343.23 L375.11,344.57 L375.59,345.76 L376.08,346.87 L376.57,348.03 L377.06,349.18 L377.55,350.29 L378.04,351.29 L378.53,352.15 L379.02,352.80 L379.51,353.20 L380.00,353.30 L380.49,353.25 L380.98,353.15 L381.47,353.00 L381.96,352.80 L382.45,352.57 L382.94,352.31 L383.43,352.04 L383.92,351.75 L384.41,351.39 L384.90,350.88 L385.39,350.24 L385.88,349.50 L386.37,348.70 L386.86,347.86 L387.35,347.03 L387.84,346.22 L388.33,345.47 L388.82,344.82 L389.31,344.29 L389.80,343.83 L390.29,343.35 L390.78,342.88 L391.27,342.43 L391.76,341.99 L392.25,341.60 L392.74,341.26 L393.23,340.97 L393.71,340.76 L394.20,340.63 L394.69,340.60 L395.18,340.66 L395.67,340.80 L396.16,341.00 L396.65,341.25 L397.14,341.54 L397.63,341.86 L398.12,342.18 L398.61,342.51 L399.10,342.82 L399.59,343.10 L400.08,343.34 L400.57,343.55 L401.06,343.74 L401.55,343.92 L402.04,344.11 L402.53,344.30 L403.02,344.51 L403.51,344.74 L404.00,345.00 L404.49,345.32 L404.98,345.71 L405.47,346.16 L405.96,346.64 L406.45,347.15 L406.94,347.66 L407.43,348.16 L407.92,348.64 L408.41,349.06 L408.90,349.43 L409.39,349.75 L409.88,350.09 L410.37,350.42 L410.86,350.75 L411.34,351.06 L411.83,351.34 L412.32,351.59 L412.81,351.78 L413.30,351.92 L413.79,351.99 L414.28,351.99 L414.77,351.92 L415.26,351.80 L415.75,351.64 L416.24,351.42 L416.73,351.17 L417.22,350.89 L417.71,350.59 L418.20,350.26 L418.69,349.93 L419.18,349.58 L419.67,349.23 L420.16,348.88 L420.65,348.43 L421.14,347.86 L421.63,347.20 L422.12,346.47 L422.61,345.67 L423.10,344.85 L423.59,344.01 L424.08,343.17 L424.57,342.35 L425.06,341.58 L425.55,340.88 L426.04,340.26 L426.53,339.74 L427.02,339.34 L427.51,339.09 L428.00,339.00 L428.49,339.05 L428.97,339.20 L429.46,339.44 L429.95,339.75 L430.44,340.11 L430.93,340.52 L431.42,340.96 L431.91,341.42 L432.40,341.88 L432.89,342.32 L433.38,342.74 L433.87,343.13 L434.36,343.46 L434.85,343.72 L435.34,343.90 L435.83,343.99 L436.32,343.98 L436.81,343.89 L437.30,343.72 L437.79,343.49 L438.28,343.21 L438.77,342.89 L439.26,342.55 L439.75,342.19 L440.24,341.82 L440.73,341.46 L441.22,341.11 L441.71,340.80 L442.20,340.52 L442.69,340.29 L443.18,340.12 L443.67,340.02 L444.16,340.01 L444.65,340.11 L445.14,340.32 L445.63,340.63 L446.12,341.03 L446.61,341.50 L447.09,342.05 L447.58,342.64 L448.07,343.28 L448.56,343.95 L449.05,344.65 L449.54,345.35 L450.03,346.05 L450.52,346.83 L451.01,347.76 L451.50,348.82 L451.99,349.96 L452.48,351.19 L452.97,352.45 L453.46,353.75 L453.95,355.04 L454.44,356.31 L454.93,357.53 L455.42,358.74 L455.91,360.01 L456.40,361.32 L456.89,362.66 L457.38,364.01 L457.87,365.35 L458.36,366.66 L458.85,367.92 L459.34,369.11 L459.83,370.22 L460.32,371.23 L460.81,372.11 L461.30,372.95 L461.79,373.80 L462.28,374.65 L462.77,375.49 L463.26,376.29 L463.75,377.03 L464.24,377.70 L464.72,378.28 L465.21,378.74 L465.70,379.08 L466.19,379.27 L466.68,379.29 L467.17,379.20 L467.66,379.00 L468.15,378.71 L468.64,378.34 L469.13,377.90 L469.62,377.40 L470.11,376.84 L470.60,376.24 L471.09,375.61 L471.58,374.96 L472.07,374.29 L472.56,373.62 L473.05,372.96 L473.54,372.31 L474.03,371.64 L474.52,370.81 L475.01,369.85 L475.50,368.79 L475.99,367.65 L476.48,366.48 L476.97,365.29 L477.46,364.12 L477.95,363.01 L478.44,361.98 L478.93,361.07 L479.42,360.31 L479.91,359.72 L480.40,359.34 L480.89,359.20 L481.38,359.22 L481.87,359.26 L482.35,359.33 L482.84,359.43 L483.33,359.54 L483.82,359.67 L484.31,359.80 L484.80,359.94 L485.29,360.11 L485.78,360.37 L486.27,360.72 L486.76,361.11 L487.25,361.53 L487.74,361.93 L488.23,362.29 L488.72,362.57 L489.21,362.75 L489.70,362.80 L490.19,362.64 L490.68,362.29 L491.17,361.80 L491.66,361.19 L492.15,360.51 L492.64,359.80 L493.13,359.10 L493.62,358.45 L494.11,357.88 L494.60,357.33 L495.09,356.76 L495.58,356.18 L496.07,355.60 L496.56,355.04 L497.05,354.51 L497.54,354.00 L498.03,353.55 L498.52,353.14 L499.01,352.77 L499.50,352.43 L499.98,352.11 L500.47,351.79 L500.96,351.49 L501.45,351.19 L501.94,350.87 L502.43,350.55 L502.92,350.21 L503.41,349.87 L503.90,349.52 L504.39,349.18 L504.88,348.83 L505.37,348.48 L505.86,348.13 L506.35,347.78 L506.84,347.43 L507.33,347.08 L507.82,346.72 L508.31,346.36 L508.80,346.00" stroke="#b4b4b4" stroke-width="3.6" fill="none"/>
<path d="M319.70,374.30 L320.19,373.40 L320.69,372.49 L321.18,371.57 L321.68,370.65 L322.17,369.72 L322.66,368.78 L323.16,367.84 L323.65,366.89 L324.15,365.91 L324.64,364.89 L325.13,363.83 L325.63,362.75 L326.12,361.67 L326.62,360.62 L327.11,359.61 L327.60,358.67 L328.10,357.82 L328.59,357.07 L329.09,356.33 L329.58,355.57 L330.07,354.81 L330.57,354.09 L331.06,353.43 L331.56,352.85 L332.05,352.39 L332.54,352.07 L333.04,351.91 L333.53,351.92 L334.03,352.02 L334.52,352.20 L335.01,352.43 L335.51,352.71 L336.00,353.03 L336.50,353.38 L336.99,353.75 L337.48,354.31 L337.98,355.04 L338.47,355.91 L338.97,356.88 L339.46,357.91 L339.95,358.95 L340.45,359.98 L340.94,360.94 L341.43,361.80 L341.93,362.60 L342.42,363.47 L342.92,364.37 L343.41,365.29 L343.90,366.20 L344.40,367.07 L344.89,367.87 L345.39,368.59 L345.88,369.20 L346.37,369.67 L346.87,369.98 L347.36,370.10 L347.86,370.08 L348.35,370.01 L348.84,369.89 L349.34,369.73 L349.83,369.53 L350.33,369.30 L350.82,369.04 L351.31,368.60 L351.81,367.75 L352.30,366.56 L352.80,365.12 L353.29,363.53 L353.78,361.86 L354.28,360.21 L354.77,358.61 L355.27,356.88 L355.76,355.01 L356.25,353.03 L356.75,350.97 L357.24,348.87 L357.74,346.75 L358.23,344.65 L358.72,342.60 L359.22,340.63 L359.71,338.68 L360.21,336.70 L360.70,334.74 L361.19,332.85 L361.69,331.06 L362.18,329.39 L362.68,327.61 L363.17,325.74 L363.66,323.88 L364.16,322.13 L364.65,320.57 L365.15,319.32 L365.64,318.47 L366.13,318.11 L366.63,318.13 L367.12,318.22 L367.62,318.38 L368.11,318.60 L368.60,318.87 L369.10,319.18 L369.59,319.54 L370.09,319.93 L370.58,320.35 L371.07,320.80 L371.57,321.27 L372.06,321.93 L372.56,322.84 L373.05,323.95 L373.54,325.19 L374.04,326.50 L374.53,327.83 L375.03,329.12 L375.52,330.30 L376.01,331.40 L376.51,332.63 L377.00,333.94 L377.50,335.24 L377.99,336.47 L378.48,337.55 L378.98,338.40 L379.47,338.94 L379.97,339.10 L380.46,338.96 L380.95,338.63 L381.45,338.14 L381.94,337.53 L382.43,336.83 L382.93,336.09 L383.42,335.34 L383.92,334.62 L384.41,333.87 L384.90,333.00 L385.40,332.03 L385.89,330.99 L386.39,329.91 L386.88,328.82 L387.37,327.75 L387.87,326.74 L388.36,325.81 L388.86,325.00 L389.35,324.34 L389.84,323.75 L390.34,323.17 L390.83,322.62 L391.33,322.10 L391.82,321.61 L392.31,321.15 L392.81,320.74 L393.30,320.38 L393.80,320.07 L394.29,319.82 L394.78,319.63 L395.28,319.46 L395.77,319.30 L396.27,319.14 L396.76,319.00 L397.25,318.87 L397.75,318.76 L398.24,318.66 L398.74,318.59 L399.23,318.53 L399.72,318.50 L400.22,318.51 L400.71,318.64 L401.21,318.88 L401.70,319.18 L402.19,319.52 L402.69,319.86 L403.18,320.16 L403.68,320.40 L404.17,320.54 L404.66,320.65 L405.16,320.76 L405.65,320.86 L406.15,320.96 L406.64,321.05 L407.13,321.14 L407.63,321.22 L408.12,321.30 L408.62,321.37 L409.11,321.43 L409.60,321.48 L410.10,321.52 L410.59,321.56 L411.09,321.58 L411.58,321.60 L412.07,321.60 L412.57,321.55 L413.06,321.43 L413.56,321.24 L414.05,321.01 L414.54,320.74 L415.04,320.44 L415.53,320.13 L416.03,319.80 L416.52,319.49 L417.01,319.16 L417.51,318.79 L418.00,318.38 L418.50,317.94 L418.99,317.46 L419.48,316.93 L419.98,316.37 L420.47,315.76 L420.97,315.09 L421.46,314.29 L421.95,313.38 L422.45,312.39 L422.94,311.34 L423.43,310.25 L423.93,309.16 L424.42,308.03 L424.92,306.81 L425.41,305.52 L425.90,304.20 L426.40,302.88 L426.89,301.58 L427.39,300.33 L427.88,299.16 L428.37,298.07 L428.87,297.02 L429.36,295.99 L429.86,294.96 L430.35,293.91 L430.84,292.80 L431.34,291.62 L431.83,290.33 L432.33,288.93 L432.82,287.38 L433.31,285.72 L433.81,283.92 L434.30,281.96 L434.80,279.83 L435.29,277.50 L435.78,274.95 L436.28,272.17 L436.77,269.13 L437.27,265.30 L437.76,260.63 L438.25,255.43 L438.75,250.01 L439.24,244.70 L439.74,239.58 L440.23,234.41 L440.72,229.11 L441.22,223.62 L441.71,217.86 L442.21,211.66 L442.70,205.00 M481.50,205.00 L481.92,208.32 L482.33,212.06 L482.75,216.32 L483.17,221.39 L483.58,227.10 L484.00,233.20 L484.42,239.46 L484.84,245.61 L485.25,251.43 L485.67,256.65 L486.09,261.34 L486.50,265.84 L486.92,270.15 L487.34,274.29 L487.75,278.28 L488.17,282.14 L488.59,285.87 L489.01,289.51 L489.42,293.12 L489.84,296.63 L490.26,299.94 L490.67,302.94 L491.09,305.52 L491.51,307.78 L491.92,309.82 L492.34,311.71 L492.76,313.49 L493.17,315.22 L493.59,316.96 L494.01,318.69 L494.43,320.36 L494.84,321.98 L495.26,323.58 L495.68,325.16 L496.09,326.77 L496.51,328.54 L496.93,330.39 L497.34,332.15 L497.76,333.64 L498.18,334.66 L498.59,335.31 L499.01,335.85 L499.43,336.29 L499.85,336.68 L500.26,337.01 L500.68,337.33 L501.10,337.64 L501.51,337.98 L501.93,338.36 L502.35,338.81 L502.76,339.34 L503.18,339.92 L503.60,340.54 L504.02,341.21 L504.43,341.91 L504.85,342.64 L505.27,343.40 L505.68,344.19 L506.10,345.00" stroke="#808080" stroke-width="3.6" fill="none"/>
<line x1="313.50" y1="388.00" x2="511.80" y2="388.00" stroke="#000" stroke-width="1.6" stroke-linecap="round" stroke-dasharray="0.01 4.99"/>
<path d="M418.00,387.07 L418.30,386.99 L418.60,386.90 L418.90,386.80 L419.20,386.70 L419.50,386.59 L419.80,386.47 L420.10,386.34 L420.39,386.20 L420.69,386.05 L420.99,385.88 L421.29,385.71 L421.59,385.52 L421.89,385.32 L422.19,385.10 L422.49,384.87 L422.79,384.62 L423.09,384.36 L423.39,384.07 L423.69,383.77 L423.99,383.44 L424.29,383.09 L424.59,382.72 L424.88,382.33 L425.18,381.90 L425.48,381.45 L425.78,380.97 L426.08,380.46 L426.38,379.92 L426.68,379.34 L426.98,378.72 L427.28,378.07 L427.58,377.38 L427.88,376.65 L428.18,375.87 L428.48,375.05 L428.78,374.18 L429.08,373.26 L429.37,372.28 L429.67,371.26 L429.97,370.17 L430.27,369.03 L430.57,367.82 L430.87,366.55 L431.17,365.21 L431.47,363.80 L431.77,362.32 L432.07,360.76 L432.37,359.13 L432.67,357.42 L432.97,355.62 L433.27,353.73 L433.57,351.76 L433.86,349.70 L434.16,347.54 L434.46,345.28 L434.76,342.92 L435.06,340.46 L435.36,337.90 L435.66,335.22 L435.96,332.44 L436.26,329.54 L436.56,326.52 L436.86,323.39 L437.16,320.13 L437.46,316.75 L437.76,313.24 L438.06,309.61 L438.35,305.85 L438.65,301.95 L438.95,297.92 L439.25,293.76 L439.55,289.46 L439.85,285.02 L440.15,280.45 L440.45,275.73 L440.75,270.88 L441.05,265.88 L441.35,260.74 L441.65,255.46 L441.95,250.04 L442.25,244.48 L442.55,238.79 L442.84,232.95 L443.14,226.98 L443.44,220.87 L443.74,214.63 L444.04,208.26 L444.34,201.75 L444.64,195.13 L444.94,188.38 L445.24,181.51 L445.54,174.53 L445.84,167.44 L446.14,160.24 L446.44,152.94 L446.74,145.54 L447.04,138.05 L447.33,130.48 L447.63,122.83 L447.93,115.11 L448.23,107.32 L448.53,99.47 L448.83,91.57 L449.13,83.63 L449.43,75.65 L449.73,67.65 L450.03,59.63 L450.33,51.60 L450.63,43.56 L450.93,35.54 L451.23,27.53 L451.53,19.55 L451.82,11.61 L452.12,3.72 L452.42,-4.12 L452.72,-11.89 L453.02,-19.58 L453.32,-27.18 L453.62,-34.69 L453.92,-42.08 L454.22,-49.36 L454.52,-56.51 L454.82,-63.52 L455.12,-70.38 L455.42,-77.07 L455.72,-83.60 L456.02,-89.95 L456.31,-96.11 L456.61,-102.07 L456.91,-107.82 L457.21,-113.35 L457.51,-118.66 L457.81,-123.73 L458.11,-128.56 L458.41,-133.14 L458.71,-137.46 L459.01,-141.52 L459.31,-145.30 L459.61,-148.81 L459.91,-152.03 L460.21,-154.96 L460.51,-157.60 L460.80,-159.94 L461.10,-161.98 L461.40,-163.71 L461.70,-165.14 L462.00,-166.25 L462.30,-167.05 L462.60,-167.53 L462.90,-167.70 L463.20,-167.55 L463.50,-167.09 L463.80,-166.31 L464.10,-165.22 L464.40,-163.82 L464.70,-162.11 L464.99,-160.09 L465.29,-157.77 L465.59,-155.16 L465.89,-152.24 L466.19,-149.04 L466.49,-145.55 L466.79,-141.79 L467.09,-137.75 L467.39,-133.45 L467.69,-128.89 L467.99,-124.07 L468.29,-119.02 L468.59,-113.73 L468.89,-108.21 L469.19,-102.47 L469.48,-96.53 L469.78,-90.38 L470.08,-84.05 L470.38,-77.53 L470.68,-70.84 L470.98,-64.00 L471.28,-57.00 L471.58,-49.86 L471.88,-42.59 L472.18,-35.20 L472.48,-27.70 L472.78,-20.11 L473.08,-12.42 L473.38,-4.66 L473.68,3.18 L473.97,11.07 L474.27,19.00 L474.57,26.98 L474.87,34.99 L475.17,43.01 L475.47,51.04 L475.77,59.07 L476.07,67.10 L476.37,75.10 L476.67,83.08 L476.97,91.02 L477.27,98.93 L477.57,106.78 L477.87,114.57 L478.17,122.30 L478.46,129.95 L478.76,137.53 L479.06,145.03 L479.36,152.43 L479.66,159.74 L479.96,166.94 L480.26,174.04 L480.56,181.03 L480.86,187.91 L481.16,194.67 L481.46,201.30 L481.76,207.81 L482.06,214.19 L482.36,220.44 L482.66,226.56 L482.95,232.54 L483.25,238.39 L483.55,244.10 L483.85,249.66 L484.15,255.09 L484.45,260.38 L484.75,265.53 L485.05,270.54 L485.35,275.40 L485.65,280.13 L485.95,284.71 L486.25,289.16 L486.55,293.47 L486.85,297.64 L487.15,301.68 L487.44,305.58 L487.74,309.36 L488.04,313.00 L488.34,316.51 L488.64,319.90 L488.94,323.16 L489.24,326.31 L489.54,329.33 L489.84,332.24 L490.14,335.03 L490.44,337.72 L490.74,340.29 L491.04,342.76 L491.34,345.12 L491.64,347.38 L491.93,349.55 L492.23,351.62 L492.53,353.60 L492.83,355.49 L493.13,357.29 L493.43,359.01 L493.73,360.65 L494.03,362.21 L494.33,363.70 L494.63,365.11 L494.93,366.46 L495.23,367.73 L495.53,368.94 L495.83,370.09 L496.13,371.18 L496.42,372.21 L496.72,373.19 L497.02,374.12 L497.32,374.99 L497.62,375.82 L497.92,376.60 L498.22,377.33 L498.52,378.03 L498.82,378.68 L499.12,379.30 L499.42,379.88 L499.72,380.42 L500.02,380.94 L500.32,381.42 L500.62,381.87 L500.91,382.30 L501.21,382.70 L501.51,383.07 L501.81,383.42 L502.11,383.75 L502.41,384.05 L502.71,384.34 L503.01,384.61 L503.31,384.86 L503.61,385.09 L503.91,385.31 L504.21,385.51 L504.51,385.70 L504.81,385.87 L505.11,386.03 L505.40,386.19 L505.70,386.33 L506.00,386.46 L506.30,386.58 L506.60,386.69 L506.90,386.80 L507.20,386.89 L507.50,386.98" stroke="#000" stroke-width="1.6" fill="none" stroke-dasharray="6.5 7"/>
<path d="M348.00,387.91 L348.47,387.90 L348.95,387.89 L349.42,387.89 L349.90,387.88 L350.37,387.87 L350.85,387.86 L351.32,387.85 L351.80,387.84 L352.27,387.82 L352.75,387.81 L353.22,387.80 L353.70,387.78 L354.17,387.77 L354.65,387.75 L355.12,387.73 L355.60,387.72 L356.07,387.70 L356.55,387.67 L357.02,387.65 L357.50,387.63 L357.97,387.60 L358.45,387.58 L358.92,387.55 L359.40,387.52 L359.87,387.49 L360.35,387.46 L360.82,387.42 L361.30,387.38 L361.77,387.35 L362.25,387.31 L362.72,387.26 L363.20,387.22 L363.67,387.17 L364.15,387.12 L364.62,387.07 L365.10,387.01 L365.57,386.96 L366.05,386.90 L366.52,386.83 L367.00,386.77 L367.47,386.70 L367.95,386.62 L368.42,386.55 L368.90,386.47 L369.37,386.39 L369.85,386.30 L370.32,386.21 L370.80,386.12 L371.27,386.02 L371.75,385.92 L372.22,385.81 L372.70,385.70 L373.17,385.59 L373.65,385.47 L374.12,385.35 L374.60,385.22 L375.07,385.09 L375.55,384.95 L376.02,384.81 L376.49,384.67 L376.97,384.52 L377.44,384.36 L377.92,384.20 L378.39,384.03 L378.87,383.86 L379.34,383.69 L379.82,383.51 L380.29,383.32 L380.77,383.13 L381.24,382.93 L381.72,382.73 L382.19,382.53 L382.67,382.31 L383.14,382.10 L383.62,381.88 L384.09,381.65 L384.57,381.42 L385.04,381.18 L385.52,380.94 L385.99,380.69 L386.47,380.44 L386.94,380.19 L387.42,379.93 L387.89,379.66 L388.37,379.39 L388.84,379.12 L389.32,378.84 L389.79,378.56 L390.27,378.28 L390.74,377.99 L391.22,377.70 L391.69,377.41 L392.17,377.11 L392.64,376.82 L393.12,376.52 L393.59,376.21 L394.07,375.91 L394.54,375.61 L395.02,375.30 L395.49,374.99 L395.97,374.69 L396.44,374.38 L396.92,374.07 L397.39,373.76 L397.87,373.46 L398.34,373.15 L398.82,372.85 L399.29,372.55 L399.77,372.25 L400.24,371.95 L400.72,371.66 L401.19,371.37 L401.67,371.08 L402.14,370.80 L402.62,370.52 L403.09,370.25 L403.57,369.98 L404.04,369.72 L404.52,369.46 L404.99,369.21 L405.46,368.96 L405.94,368.73 L406.41,368.50 L406.89,368.27 L407.36,368.06 L407.84,367.85 L408.31,367.65 L408.79,367.46 L409.26,367.28 L409.74,367.11 L410.21,366.95 L410.69,366.80 L411.16,366.66 L411.64,366.53 L412.11,366.40 L412.59,366.29 L413.06,366.19 L413.54,366.11 L414.01,366.03 L414.49,365.96 L414.96,365.91 L415.44,365.86 L415.91,365.83 L416.39,365.81 L416.86,365.80 L417.34,365.80 L417.81,365.82 L418.29,365.84 L418.76,365.88 L419.24,365.93 L419.71,365.99 L420.19,366.06 L420.66,366.14 L421.14,366.23 L421.61,366.34 L422.09,366.45 L422.56,366.58 L423.04,366.72 L423.51,366.86 L423.99,367.02 L424.46,367.18 L424.94,367.36 L425.41,367.54 L425.89,367.74 L426.36,367.94 L426.84,368.15 L427.31,368.37 L427.79,368.59 L428.26,368.83 L428.74,369.07 L429.21,369.31 L429.69,369.57 L430.16,369.83 L430.64,370.09 L431.11,370.36 L431.59,370.64 L432.06,370.92 L432.54,371.20 L433.01,371.49 L433.48,371.78 L433.96,372.08 L434.43,372.38 L434.91,372.68 L435.38,372.98 L435.86,373.28 L436.33,373.59 L436.81,373.89 L437.28,374.20 L437.76,374.51 L438.23,374.82 L438.71,375.12 L439.18,375.43 L439.66,375.74 L440.13,376.04 L440.61,376.34 L441.08,376.64 L441.56,376.94 L442.03,377.24 L442.51,377.53 L442.98,377.83 L443.46,378.11 L443.93,378.40 L444.41,378.68 L444.88,378.96 L445.36,379.24 L445.83,379.51 L446.31,379.77 L446.78,380.04 L447.26,380.29 L447.73,380.55 L448.21,380.80 L448.68,381.04 L449.16,381.28 L449.63,381.52 L450.11,381.75 L450.58,381.97 L451.06,382.19 L451.53,382.40 L452.01,382.61 L452.48,382.82 L452.96,383.02 L453.43,383.21 L453.91,383.40 L454.38,383.58 L454.86,383.76 L455.33,383.94 L455.81,384.10 L456.28,384.27 L456.76,384.43 L457.23,384.58 L457.71,384.73 L458.18,384.87 L458.66,385.01 L459.13,385.15 L459.61,385.28 L460.08,385.40 L460.56,385.52 L461.03,385.64 L461.51,385.75 L461.98,385.86 L462.45,385.96 L462.93,386.06 L463.40,386.16 L463.88,386.25 L464.35,386.34 L464.83,386.42 L465.30,386.50 L465.78,386.58 L466.25,386.65 L466.73,386.73 L467.20,386.79 L467.68,386.86 L468.15,386.92 L468.63,386.98 L469.10,387.04 L469.58,387.09 L470.05,387.14 L470.53,387.19 L471.00,387.24 L471.48,387.28 L471.95,387.32 L472.43,387.36 L472.90,387.40 L473.38,387.44 L473.85,387.47 L474.33,387.50 L474.80,387.53 L475.28,387.56 L475.75,387.59 L476.23,387.61 L476.70,387.64 L477.18,387.66 L477.65,387.68 L478.13,387.70 L478.60,387.72 L479.08,387.74 L479.55,387.76 L480.03,387.77 L480.50,387.79 L480.98,387.80 L481.45,387.82 L481.93,387.83 L482.40,387.84 L482.88,387.85 L483.35,387.86 L483.83,387.87 L484.30,387.88 L484.78,387.89 L485.25,387.90 L485.73,387.91 L486.20,387.91 L486.68,387.92 L487.15,387.92 L487.63,387.93 L488.10,387.94 L488.58,387.94 L489.05,387.94 L489.53,387.95 L490.00,387.95" stroke="#000" stroke-width="1.6" fill="none" stroke-dasharray="6.5 7"/>
<path d="M320.00,359.50 L322.05,351.80 L324.09,354.20 L326.13,351.80 L328.18,371.30 L330.23,355.40 L332.27,358.30 L334.31,334.20 L336.36,385.40 L338.40,370.70 L340.45,386.00 L342.50,370.10 L344.54,354.20 L346.58,363.05 L348.63,371.90 L350.68,368.35 L352.72,364.80 L354.76,352.40 L356.81,340.00 L358.86,346.00 L360.90,346.90 L362.94,352.80 L364.99,331.10 L367.03,309.40 L369.08,335.00 L371.12,333.30 L373.17,338.40 L375.21,337.55 L377.26,336.70 L379.31,334.10 L381.35,358.80 L383.39,344.30 L385.44,329.80 L387.49,345.20 L389.53,324.70 L391.57,323.90 L393.62,300.45 L395.66,277.00 L397.71,297.50 L399.75,322.40 L401.80,312.20 L403.85,314.00 L405.89,331.00 L407.94,332.00 L409.98,324.10 L412.02,333.05 L414.07,342.00 L416.12,325.40 L418.16,308.80 L420.20,315.60 L422.25,322.40 L424.30,337.80 L426.34,315.65 L428.38,293.50 L430.43,293.00 L432.48,269.60 L434.52,264.50 L436.56,265.00 L438.61,245.80 L440.65,227.00 L442.70,176.94 L444.75,131.75 L446.79,72.34 L448.84,-22.50 L450.88,-199.95 L452.92,-533.18 L454.97,-1089.93 L457.01,-1848.25 L459.06,-2627.16 L461.11,-3131.17 L463.15,-3125.55 L465.19,-2613.74 L467.24,-1834.72 L469.28,-1083.11 L471.33,-534.25 L473.38,-205.97 L475.42,-31.23 L477.47,62.94 L479.51,124.08 L481.56,173.72 L483.60,216.33 L485.64,244.60 L487.69,243.80 L489.74,288.60 L491.78,308.70 L493.82,312.00 L495.87,322.00 L497.91,317.40 L499.96,333.95 L502.00,350.50 L504.05,339.00 L506.10,392.00" stroke="#000" stroke-width="1.85" fill="none" stroke-linejoin="round"/>
</g>
<g clip-path="url(#cpcL)">
<path d="M104.60,479.44V518.36 M106.64,490.54V529.46 M108.69,547.04V585.96 M110.73,499.84V538.76 M112.78,534.44V573.36 M114.82,569.04V607.96 M116.87,530.89V569.81 M118.91,492.74V531.66 M120.96,554.14V593.06 M123.00,526.59V565.51 M125.05,499.04V537.96 M127.09,517.64V556.56 M129.14,536.24V575.16 M131.19,554.84V593.76 M133.23,537.54V576.46 M135.27,520.24V559.16 M137.32,521.04V559.96 M139.37,525.84V564.76 M141.41,509.69V548.61 M143.45,493.36V532.64 M145.50,509.79V548.71 M147.54,525.95V565.05 M149.59,513.30V552.70 M151.63,547.64V586.56 M153.68,513.28V552.72 M155.72,518.64V557.56 M157.77,555.34V594.26 M159.81,505.04V543.96 M161.86,492.61V531.69 M163.91,480.04V519.56 M165.95,508.34V547.46 M168.00,511.84V550.76 M170.04,503.30V542.30 M172.08,545.94V584.86 M174.13,543.34V582.26 M176.18,547.64V586.56 M178.22,528.94V567.86 M180.26,537.89V576.81 M182.31,546.84V585.76 M184.35,529.34V568.26 M186.40,511.84V550.76 M188.44,535.67V574.63 M190.49,559.54V598.46 M192.53,491.20V530.60 M194.58,516.99V555.91 M196.62,542.54V581.46 M198.67,496.41V535.59 M200.71,496.94V536.06 M202.76,504.98V544.02 M204.81,515.66V554.64 M206.85,526.34V565.26 M208.89,493.53V533.27 M210.94,539.14V578.06 M212.98,496.33V535.67 M215.03,504.54V544.46 M217.07,513.18V552.82 M219.12,497.48V537.92 M221.16,505.93V546.47 M223.21,489.35V530.65 M225.25,508.38V550.02 M227.30,527.13V569.67 M229.34,529.99V573.61 M231.39,481.56V526.64 M233.44,514.40V561.80 M235.48,480.17V531.43 M237.52,559.95V617.05 M239.57,526.48V590.92 M241.61,493.00V564.80 M243.66,540.61V617.99 M245.70,503.43V583.17 M247.75,537.16V615.44 M249.79,524.63V598.07 M251.84,513.15V579.65 M253.88,564.09V623.31 M255.93,486.92V540.08 M257.98,478.69V527.71 M260.02,469.64V516.16 M262.06,519.84V564.76 M264.11,510.14V553.86 M266.15,500.35V543.05 M268.20,521.85V563.15 M270.25,536.71V577.39 M272.29,551.58V591.62 M274.33,493.27V533.53 M276.38,529.85V569.15 M278.42,500.76V540.24 M280.47,500.40V539.80 M282.51,526.64V565.56 M284.56,536.24V575.16 M286.61,526.64V565.56 M288.65,517.04V555.96 M290.69,515.04V553.96 M292.74,502.52V541.48 M294.78,575.54V614.46" stroke="#7d7d7d" stroke-width="1.3" fill="none"/>
<line x1="99.30" y1="538.76" x2="297.60" y2="538.76" stroke="#000" stroke-width="1.6" stroke-linecap="round" stroke-dasharray="0.01 4.99"/>
<path d="M104.60,498.90 L106.64,510.00 L108.69,566.50 L110.73,519.30 L112.78,553.90 L114.82,588.50 L116.87,550.35 L118.91,512.20 L120.96,573.60 L123.00,546.05 L125.05,518.50 L127.09,537.10 L129.14,555.70 L131.19,574.30 L133.23,557.00 L135.27,539.70 L137.32,540.50 L139.37,545.30 L141.41,529.15 L143.45,513.00 L145.50,529.25 L147.54,545.50 L149.59,533.00 L151.63,567.10 L153.68,533.00 L155.72,538.10 L157.77,574.80 L159.81,524.50 L161.86,512.15 L163.91,499.80 L165.95,527.90 L168.00,531.30 L170.04,522.80 L172.08,565.40 L174.13,562.80 L176.18,567.10 L178.22,548.40 L180.26,557.35 L182.31,566.30 L184.35,548.80 L186.40,531.30 L188.44,555.15 L190.49,579.00 L192.53,510.90 L194.58,536.45 L196.62,562.00 L198.67,516.00 L200.71,516.50 L202.76,524.50 L204.81,535.15 L206.85,545.80 L208.89,513.40 L210.94,558.60 L212.98,516.00 L215.03,524.50 L217.07,533.00 L219.12,517.70 L221.16,526.20 L223.21,510.00 L225.25,529.20 L227.30,548.40 L229.34,551.80 L231.39,504.10 L233.44,538.10 L235.48,505.80 L237.52,588.50 L239.57,558.70 L241.61,528.90 L243.66,579.30 L245.70,543.30 L247.75,576.30 L249.79,561.35 L251.84,546.40 L253.88,593.70 L255.93,513.50 L257.98,503.20 L260.02,492.90 L262.06,542.30 L264.11,532.00 L266.15,521.70 L268.20,542.50 L270.25,557.05 L272.29,571.60 L274.33,513.40 L276.38,549.50 L278.42,520.50 L280.47,520.10 L282.51,546.10 L284.56,555.70 L286.61,546.10 L288.65,536.50 L290.69,534.50 L292.74,522.00 L294.78,595.00" stroke="#000" stroke-width="1.85" fill="none" stroke-linejoin="round"/>
</g>
<g clip-path="url(#cpcR)">
<path d="M320.00,496.44V535.96 M322.05,491.44V531.36 M324.09,499.40V539.20 M326.13,504.04V543.96 M328.18,537.54V576.46 M330.23,523.03V562.77 M332.27,527.81V567.39 M334.31,492.58V533.42 M336.36,561.14V600.06 M338.40,537.53V576.47 M340.45,554.84V593.76 M342.50,528.52V567.48 M344.54,501.80V541.60 M346.58,512.23V551.57 M348.63,522.64V561.56 M350.68,519.47V558.53 M352.72,518.98V558.22 M354.76,518.25V558.15 M356.81,502.23V542.77 M358.86,527.49V567.71 M360.90,540.66V580.84 M362.94,553.96V593.84 M364.99,517.60V558.60 M367.03,501.76V543.84 M369.08,538.20V579.00 M371.12,526.26V567.14 M373.17,529.69V570.31 M375.21,516.97V557.63 M377.26,508.00V548.70 M379.31,498.98V539.82 M381.35,533.72V573.28 M383.39,512.04V552.36 M385.44,490.37V531.43 M387.49,524.87V565.13 M389.53,506.44V547.76 M391.57,502.12V543.48 M393.62,471.13V513.67 M395.66,440.16V483.84 M397.71,469.36V512.04 M399.75,498.68V540.12 M401.80,484.83V526.77 M403.85,487.57V529.43 M405.89,509.20V550.20 M407.94,498.18V539.12 M409.98,486.93V528.27 M412.02,504.00V544.90 M414.07,521.08V561.52 M416.12,494.66V535.94 M418.16,468.24V510.36 M420.20,483.81V525.59 M422.25,499.38V540.82 M424.30,497.87V538.53 M426.34,532.01V573.79 M428.38,479.36V522.24 M430.43,468.75V511.65 M432.48,457.58V501.62 M434.52,467.11V511.39 M436.56,476.77V521.03 M438.61,499.41V544.59 M440.65,522.07V568.13 M442.70,510.39V558.71 M444.75,498.85V549.15 M446.79,493.59V546.41 M448.84,502.68V559.32 M450.88,474.16V537.44 M452.92,480.60V555.00 M454.97,533.88V624.32 M457.01,478.64V587.76 M459.06,483.34V609.26 M461.11,466.27V602.13 M463.15,490.42V626.18 M465.19,478.53V604.17 M467.24,469.99V578.81 M469.28,492.37V582.63 M471.33,500.28V574.72 M473.38,483.91V547.39 M475.42,465.31V522.29 M477.47,517.50V570.70 M479.51,488.18V538.82 M481.56,528.57V577.03 M483.60,507.13V553.67 M485.64,485.39V530.61 M487.69,510.57V555.83 M489.74,447.44V490.56 M491.78,488.54V530.66 M493.82,499.02V540.98 M495.87,505.07V546.53 M497.91,488.76V530.44 M499.96,537.88V578.72 M502.00,526.70V566.70 M504.05,514.81V555.39 M506.10,569.04V607.96" stroke="#7d7d7d" stroke-width="1.3" fill="none"/>
<line x1="313.50" y1="538.76" x2="511.80" y2="538.76" stroke="#000" stroke-width="1.6" stroke-linecap="round" stroke-dasharray="0.01 4.99"/>
<path d="M345.00,538.68 L345.49,538.68 L345.98,538.67 L346.47,538.66 L346.97,538.65 L347.46,538.64 L347.95,538.63 L348.44,538.62 L348.93,538.61 L349.42,538.60 L349.92,538.59 L350.41,538.58 L350.90,538.56 L351.39,538.55 L351.88,538.53 L352.37,538.51 L352.87,538.49 L353.36,538.47 L353.85,538.45 L354.34,538.43 L354.83,538.40 L355.32,538.38 L355.82,538.35 L356.31,538.32 L356.80,538.29 L357.29,538.26 L357.78,538.22 L358.27,538.19 L358.77,538.15 L359.26,538.10 L359.75,538.06 L360.24,538.01 L360.73,537.96 L361.22,537.91 L361.72,537.86 L362.21,537.80 L362.70,537.74 L363.19,537.67 L363.68,537.60 L364.17,537.53 L364.67,537.45 L365.16,537.37 L365.65,537.29 L366.14,537.20 L366.63,537.11 L367.12,537.01 L367.62,536.91 L368.11,536.81 L368.60,536.70 L369.09,536.58 L369.58,536.46 L370.07,536.33 L370.57,536.20 L371.06,536.06 L371.55,535.92 L372.04,535.77 L372.53,535.61 L373.02,535.45 L373.52,535.28 L374.01,535.11 L374.50,534.92 L374.99,534.74 L375.48,534.54 L375.97,534.34 L376.46,534.13 L376.96,533.91 L377.45,533.69 L377.94,533.45 L378.43,533.22 L378.92,532.97 L379.41,532.71 L379.91,532.45 L380.40,532.18 L380.89,531.91 L381.38,531.62 L381.87,531.33 L382.36,531.03 L382.86,530.72 L383.35,530.40 L383.84,530.08 L384.33,529.75 L384.82,529.41 L385.31,529.06 L385.81,528.71 L386.30,528.35 L386.79,527.99 L387.28,527.61 L387.77,527.23 L388.26,526.85 L388.76,526.45 L389.25,526.06 L389.74,525.65 L390.23,525.25 L390.72,524.83 L391.21,524.41 L391.71,523.99 L392.20,523.56 L392.69,523.13 L393.18,522.70 L393.67,522.27 L394.16,521.83 L394.66,521.39 L395.15,520.94 L395.64,520.50 L396.13,520.06 L396.62,519.62 L397.11,519.17 L397.61,518.73 L398.10,518.29 L398.59,517.85 L399.08,517.41 L399.57,516.98 L400.06,516.55 L400.56,516.13 L401.05,515.71 L401.54,515.29 L402.03,514.88 L402.52,514.48 L403.01,514.08 L403.51,513.69 L404.00,513.31 L404.49,512.94 L404.98,512.58 L405.47,512.23 L405.96,511.89 L406.45,511.55 L406.95,511.23 L407.44,510.93 L407.93,510.63 L408.42,510.35 L408.91,510.08 L409.40,509.82 L409.90,509.58 L410.39,509.35 L410.88,509.13 L411.37,508.94 L411.86,508.75 L412.35,508.59 L412.85,508.43 L413.34,508.30 L413.83,508.18 L414.32,508.08 L414.81,507.99 L415.30,507.93 L415.80,507.87 L416.29,507.84 L416.78,507.82 L417.27,507.83 L417.76,507.84 L418.25,507.88 L418.75,507.93 L419.24,508.00 L419.73,508.09 L420.22,508.19 L420.71,508.31 L421.20,508.45 L421.70,508.60 L422.19,508.77 L422.68,508.95 L423.17,509.15 L423.66,509.37 L424.15,509.60 L424.65,509.84 L425.14,510.10 L425.63,510.37 L426.12,510.66 L426.61,510.96 L427.10,511.27 L427.60,511.59 L428.09,511.92 L428.58,512.26 L429.07,512.62 L429.56,512.98 L430.05,513.35 L430.55,513.73 L431.04,514.12 L431.53,514.52 L432.02,514.92 L432.51,515.33 L433.00,515.75 L433.49,516.17 L433.99,516.60 L434.48,517.03 L434.97,517.46 L435.46,517.90 L435.95,518.33 L436.44,518.78 L436.94,519.22 L437.43,519.66 L437.92,520.10 L438.41,520.55 L438.90,520.99 L439.39,521.43 L439.89,521.87 L440.38,522.31 L440.87,522.75 L441.36,523.18 L441.85,523.61 L442.34,524.03 L442.84,524.46 L443.33,524.87 L443.82,525.29 L444.31,525.70 L444.80,526.10 L445.29,526.50 L445.79,526.89 L446.28,527.27 L446.77,527.65 L447.26,528.02 L447.75,528.39 L448.24,528.75 L448.74,529.10 L449.23,529.44 L449.72,529.78 L450.21,530.11 L450.70,530.44 L451.19,530.75 L451.69,531.06 L452.18,531.36 L452.67,531.65 L453.16,531.93 L453.65,532.21 L454.14,532.48 L454.64,532.74 L455.13,532.99 L455.62,533.24 L456.11,533.48 L456.60,533.71 L457.09,533.93 L457.59,534.15 L458.08,534.36 L458.57,534.56 L459.06,534.76 L459.55,534.94 L460.04,535.12 L460.54,535.30 L461.03,535.47 L461.52,535.63 L462.01,535.78 L462.50,535.93 L462.99,536.08 L463.48,536.21 L463.98,536.35 L464.47,536.47 L464.96,536.59 L465.45,536.71 L465.94,536.82 L466.43,536.92 L466.93,537.02 L467.42,537.12 L467.91,537.21 L468.40,537.30 L468.89,537.38 L469.38,537.46 L469.88,537.54 L470.37,537.61 L470.86,537.68 L471.35,537.74 L471.84,537.80 L472.33,537.86 L472.83,537.92 L473.32,537.97 L473.81,538.02 L474.30,538.06 L474.79,538.11 L475.28,538.15 L475.78,538.19 L476.27,538.23 L476.76,538.26 L477.25,538.29 L477.74,538.32 L478.23,538.35 L478.73,538.38 L479.22,538.41 L479.71,538.43 L480.20,538.45 L480.69,538.48 L481.18,538.50 L481.68,538.51 L482.17,538.53 L482.66,538.55 L483.15,538.56 L483.64,538.58 L484.13,538.59 L484.63,538.60 L485.12,538.61 L485.61,538.63 L486.10,538.64 L486.59,538.65 L487.08,538.65 L487.58,538.66 L488.07,538.67 L488.56,538.68 L489.05,538.68 L489.54,538.69 L490.03,538.69 L490.53,538.70 L491.02,538.70 L491.51,538.71 L492.00,538.71" stroke="#000" stroke-width="3.0" fill="none" stroke-dasharray="6 8"/>
<path d="M320.00,516.20 L322.05,511.40 L324.09,519.30 L326.13,524.00 L328.18,557.00 L330.23,542.90 L332.27,547.60 L334.31,513.00 L336.36,580.60 L338.40,557.00 L340.45,574.30 L342.50,548.00 L344.54,521.70 L346.58,531.90 L348.63,542.10 L350.68,539.00 L352.72,538.60 L354.76,538.20 L356.81,522.50 L358.86,547.60 L360.90,560.75 L362.94,573.90 L364.99,538.10 L367.03,522.80 L369.08,558.60 L371.12,546.70 L373.17,550.00 L375.21,537.30 L377.26,528.35 L379.31,519.40 L381.35,553.50 L383.39,532.20 L385.44,510.90 L387.49,545.00 L389.53,527.10 L391.57,522.80 L393.62,492.40 L395.66,462.00 L397.71,490.70 L399.75,519.40 L401.80,505.80 L403.85,508.50 L405.89,529.70 L407.94,518.65 L409.98,507.60 L412.02,524.45 L414.07,541.30 L416.12,515.30 L418.16,489.30 L420.20,504.70 L422.25,520.10 L424.30,518.20 L426.34,552.90 L428.38,500.80 L430.43,490.20 L432.48,479.60 L434.52,489.25 L436.56,498.90 L438.61,522.00 L440.65,545.10 L442.70,534.55 L444.75,524.00 L446.79,520.00 L448.84,531.00 L450.88,505.80 L452.92,517.80 L454.97,579.10 L457.01,533.20 L459.06,546.30 L461.11,534.20 L463.15,558.30 L465.19,541.35 L467.24,524.40 L469.28,537.50 L471.33,537.50 L473.38,515.65 L475.42,493.80 L477.47,544.10 L479.51,513.50 L481.56,552.80 L483.60,530.40 L485.64,508.00 L487.69,533.20 L489.74,469.00 L491.78,509.60 L493.82,520.00 L495.87,525.80 L497.91,509.60 L499.96,558.30 L502.00,546.70 L504.05,535.10 L506.10,588.50" stroke="#000" stroke-width="1.85" fill="none" stroke-linejoin="round"/>
</g>
<g clip-path="url(#cpdL)">
<line x1="99.30" y1="660.31" x2="297.70" y2="660.31" stroke="#000" stroke-width="1.6" stroke-linecap="round" stroke-dasharray="0.01 4.99"/>
<path d="M100.50,632.40H108.30M104.40,628.50V636.30 M102.30,642.90H110.10M106.20,639.00V646.80 M105.20,645.30H113.00M109.10,641.40V649.20 M107.50,647.00H115.30M111.40,643.10V650.90 M104.60,679.70H112.40M108.50,675.80V683.60 M109.30,658.10H117.10M113.20,654.20V662.00 M112.80,656.90H120.60M116.70,653.00V660.80 M111.00,694.80H118.80M114.90,690.90V698.70 M115.70,642.90H123.50M119.60,639.00V646.80 M116.90,684.30H124.70M120.80,680.40V688.20 M118.60,669.20H126.40M122.50,665.30V673.10 M122.70,652.80H130.50M126.60,648.90V656.70 M122.70,646.40H130.50M126.60,642.50V650.30 M126.80,684.90H134.60M130.70,681.00V688.80 M125.00,673.30H132.80M128.90,669.40V677.20 M128.50,669.80H136.30M132.40,665.90V673.70 M133.20,661.00H141.00M137.10,657.10V664.90 M135.50,663.30H143.30M139.40,659.40V667.20 M139.00,642.30H146.80M142.90,638.40V646.20 M138.40,663.30H146.20M142.30,659.40V667.20 M143.10,665.70H150.90M147.00,661.80V669.60 M146.60,655.80H154.40M150.50,651.90V659.70 M148.90,655.20H156.70M152.80,651.30V659.10 M151.30,669.80H159.10M155.20,665.90V673.70 M147.20,679.70H155.00M151.10,675.80V683.60 M153.00,685.50H160.80M156.90,681.60V689.40 M154.80,661.00H162.60M158.70,657.10V664.90 M157.10,645.80H164.90M161.00,641.90V649.70 M159.40,633.00H167.20M163.30,629.10V636.90 M161.40,649.30H169.20M165.30,645.40V653.20 M165.40,648.20H173.20M169.30,644.30V652.10 M163.10,654.00H170.90M167.00,650.10V657.90 M163.70,657.50H171.50M167.60,653.60V661.40 M157.30,662.20H165.10M161.20,658.30V666.10 M156.10,685.50H163.90M160.00,681.60V689.40 M167.80,678.50H175.60M171.70,674.60V682.40 M171.30,679.70H179.10M175.20,675.80V683.60 M170.10,675.00H177.90M174.00,671.10V678.90 M173.60,665.70H181.40M177.50,661.80V669.60 M177.10,669.20H184.90M181.00,665.30V673.10 M180.60,665.70H188.40M184.50,661.80V669.60 M178.30,679.10H186.10M182.20,675.20V683.00 M183.50,654.60H191.30M187.40,650.70V658.50 M185.90,687.80H193.70M189.80,683.90V691.70 M187.60,641.20H195.40M191.50,637.30V645.10 M189.90,668.00H197.70M193.80,664.10V671.90 M191.70,676.20H199.50M195.60,672.30V680.10 M193.40,651.10H201.20M197.30,647.20V655.00 M196.40,644.10H204.20M200.30,640.20V648.00 M196.90,648.80H204.70M200.80,644.90V652.70 M199.90,650.50H207.70M203.80,646.60V654.40 M201.60,665.70H209.40M205.50,661.80V669.60 M203.40,659.30H211.20M207.30,655.40V663.20 M206.30,642.30H214.10M210.20,638.40V646.20 M208.00,673.80H215.80M211.90,669.90V677.70 M209.80,644.70H217.60M213.70,640.80V648.60 M212.10,656.30H219.90M216.00,652.40V660.20 M213.90,658.70H221.70M217.80,654.80V662.60 M216.80,642.90H224.60M220.70,639.00V646.80 M217.90,652.80H225.70M221.80,648.90V656.70 M219.70,640.00H227.50M223.60,636.10V643.90 M223.50,668.60H231.30M227.40,664.70V672.50 M222.60,664.00H230.40M226.50,660.10V667.90 M224.90,637.70H232.70M228.80,633.80V641.60 M227.70,637.40H235.50M231.60,633.50V641.30 M231.90,637.40H239.70M235.80,633.50V641.30 M228.90,660.20H236.70M232.80,656.30V664.10 M235.50,663.80H243.30M239.40,659.90V667.70 M237.30,653.00H245.10M241.20,649.10V656.90 M240.90,662.20H248.70M244.80,658.30V666.10 M233.70,694.40H241.50M237.60,690.50V698.30 M239.10,687.80H246.90M243.00,683.90V691.70 M242.70,686.00H250.50M246.60,682.10V689.90 M245.70,680.00H253.50M249.60,676.10V683.90 M248.10,658.40H255.90M252.00,654.50V662.30 M249.90,696.80H257.70M253.80,692.90V700.70 M251.70,642.80H259.50M255.60,638.90V646.70 M253.50,638.60H261.30M257.40,634.70V642.50 M255.70,629.50H263.50M259.60,625.60V633.40 M257.70,649.40H265.50M261.60,645.50V653.30 M261.30,648.20H269.10M265.20,644.30V652.10 M263.10,657.80H270.90M267.00,653.90V661.70 M259.50,663.20H267.30M263.40,659.30V667.10 M264.90,663.20H272.70M268.80,659.30V667.10 M267.30,683.00H275.10M271.20,679.10V686.90 M269.70,642.20H277.50M273.60,638.30V646.10 M271.50,669.80H279.30M275.40,665.90V673.70 M274.50,647.60H282.30M278.40,643.70V651.50 M277.50,666.20H285.30M281.40,662.30V670.10 M281.10,672.20H288.90M285.00,668.30V676.10 M283.50,657.20H291.30M287.40,653.30V661.10 M286.50,648.20H294.30M290.40,644.30V652.10 M288.30,686.60H296.10M292.20,682.70V690.50 M289.70,658.40H297.50M293.60,654.50V662.30" stroke="#000" stroke-width="1.9" fill="none"/>
</g>
<g clip-path="url(#cpdR)">
<line x1="313.50" y1="668.43" x2="511.80" y2="668.43" stroke="#000" stroke-width="1.6" stroke-linecap="round" stroke-dasharray="0.01 4.99"/>
<path d="M315.90,654.00H323.70M319.80,650.10V657.90 M318.20,655.80H326.00M322.10,651.90V659.70 M319.90,657.50H327.70M323.80,653.60V661.40 M321.70,659.80H329.50M325.60,655.90V663.70 M330.40,652.80H338.20M334.30,648.90V656.70 M326.40,669.20H334.20M330.30,665.30V673.10 M328.10,673.30H335.90M332.00,669.40V677.20 M323.40,679.10H331.20M327.30,675.20V683.00 M325.80,675.60H333.60M329.70,671.70V679.50 M333.90,678.50H341.70M337.80,674.60V682.40 M335.70,689.00H343.50M339.60,685.10V692.90 M331.60,693.10H339.40M335.50,689.20V697.00 M337.40,672.10H345.20M341.30,668.20V676.00 M340.90,658.70H348.70M344.80,654.80V662.60 M342.70,661.60H350.50M346.60,657.70V665.50 M339.80,669.20H347.60M343.70,665.30V673.10 M344.40,670.30H352.20M348.30,666.40V674.20 M346.80,668.60H354.60M350.70,664.70V672.50 M349.10,667.40H356.90M353.00,663.50V671.30 M351.40,669.20H359.20M355.30,665.30V673.10 M352.60,659.30H360.40M356.50,655.40V663.20 M354.90,675.00H362.70M358.80,671.10V678.90 M356.70,677.30H364.50M360.60,673.40V681.20 M358.40,689.60H366.20M362.30,685.70V693.50 M360.80,669.80H368.60M364.70,665.90V673.70 M362.50,659.80H370.30M366.40,655.90V663.70 M364.30,680.80H372.10M368.20,676.90V684.70 M366.00,672.70H373.80M369.90,668.80V676.60 M367.80,678.50H375.60M371.70,674.60V682.40 M368.90,671.50H376.70M372.80,667.60V675.40 M371.90,668.00H379.70M375.80,664.10V671.90 M374.60,659.80H382.40M378.50,655.90V663.70 M376.90,680.80H384.70M380.80,676.90V684.70 M378.70,671.50H386.50M382.60,667.60V675.40 M381.00,656.30H388.80M384.90,652.40V660.20 M383.40,678.50H391.20M387.30,674.60V682.40 M385.10,664.50H392.90M389.00,660.60V668.40 M387.40,668.00H395.20M391.30,664.10V671.90 M389.20,662.20H397.00M393.10,658.30V666.10 M390.90,634.20H398.70M394.80,630.30V638.10 M392.70,663.30H400.50M396.60,659.40V667.20 M395.00,671.50H402.80M398.90,667.60V675.40 M397.40,662.80H405.20M401.30,658.90V666.70 M399.10,664.50H406.90M403.00,660.60V668.40 M400.90,672.70H408.70M404.80,668.80V676.60 M402.60,677.30H410.40M406.50,673.40V681.20 M404.40,679.10H412.20M408.30,675.20V683.00 M406.70,666.30H414.50M410.60,662.40V670.20 M408.40,682.00H416.20M412.30,678.10V685.90 M410.80,687.80H418.60M414.70,683.90V691.70 M413.10,660.40H420.90M417.00,656.50V664.30 M415.40,658.10H423.20M419.30,654.20V662.00 M417.80,675.00H425.60M421.70,671.10V678.90 M419.50,673.30H427.30M423.40,669.40V677.20 M421.30,693.70H429.10M425.20,689.80V697.60 M423.00,661.60H430.80M426.90,657.70V665.50 M424.80,664.50H432.60M428.70,660.60V668.40 M427.10,649.90H434.90M431.00,646.00V653.80 M429.40,647.00H437.20M433.30,643.10V650.90 M431.20,658.10H439.00M435.10,654.20V662.00 M432.90,661.00H440.70M436.80,657.10V664.90 M435.30,669.20H443.10M439.20,665.30V673.10 M436.50,681.20H444.30M440.40,677.30V685.10 M439.50,677.60H447.30M443.40,673.70V681.50 M437.70,666.80H445.50M441.60,662.90V670.70 M440.70,664.40H448.50M444.60,660.50V668.30 M443.10,662.00H450.90M447.00,658.10V665.90 M444.90,670.40H452.70M448.80,666.50V674.30 M447.30,653.00H455.10M451.20,649.10V656.90 M449.10,657.80H456.90M453.00,653.90V661.70 M452.10,654.80H459.90M456.00,650.90V658.70 M450.90,695.60H458.70M454.80,691.70V699.50 M455.10,676.40H462.90M459.00,672.50V680.30 M456.90,665.00H464.70M460.80,661.10V668.90 M458.70,681.20H466.50M462.60,677.30V685.10 M461.10,675.80H468.90M465.00,671.90V679.70 M462.90,660.20H470.70M466.80,656.30V664.10 M465.30,664.40H473.10M469.20,660.50V668.30 M466.50,667.40H474.30M470.40,663.50V671.30 M468.90,662.00H476.70M472.80,658.10V665.90 M470.70,642.20H478.50M474.60,638.30V646.10 M472.50,672.80H480.30M476.40,668.90V676.70 M474.90,653.60H482.70M478.80,649.70V657.50 M476.10,664.40H483.90M480.00,660.50V668.30 M479.10,677.60H486.90M483.00,673.70V681.50 M480.30,650.60H488.10M484.20,646.70V654.50 M483.30,664.40H491.10M487.20,660.50V668.30 M486.90,651.80H494.70M490.80,647.90V655.70 M489.30,657.80H497.10M493.20,653.90V661.70 M491.70,662.00H499.50M495.60,658.10V665.90 M495.30,651.80H503.10M499.20,647.90V655.70 M496.50,679.40H504.30M500.40,675.50V683.30 M498.90,666.80H506.70M502.80,662.90V670.70 M501.90,666.80H509.70M505.80,662.90V670.70" stroke="#000" stroke-width="1.9" fill="none"/>
</g>
<rect x="99.1" y="7.85" width="195.60" height="194.95" rx="1.0" fill="none" stroke="#000" stroke-width="1.6" stroke-linejoin="round"/>
<rect x="313.5" y="7.85" width="195.30" height="194.95" rx="1.0" fill="none" stroke="#000" stroke-width="1.6" stroke-linejoin="round"/>
<rect x="99.1" y="214.5" width="195.60" height="195.50" rx="1.0" fill="none" stroke="#000" stroke-width="1.6" stroke-linejoin="round"/>
<rect x="313.5" y="214.5" width="195.30" height="195.50" rx="1.0" fill="none" stroke="#000" stroke-width="1.6" stroke-linejoin="round"/>
<rect x="99.1" y="422.0" width="195.60" height="194.60" rx="1.0" fill="none" stroke="#000" stroke-width="1.6" stroke-linejoin="round"/>
<rect x="313.5" y="422.0" width="195.30" height="194.60" rx="1.0" fill="none" stroke="#000" stroke-width="1.6" stroke-linejoin="round"/>
<rect x="99.1" y="628.8" width="195.60" height="68.90" rx="1.0" fill="none" stroke="#000" stroke-width="1.6" stroke-linejoin="round"/>
<rect x="313.5" y="628.8" width="195.30" height="68.90" rx="1.0" fill="none" stroke="#000" stroke-width="1.6" stroke-linejoin="round"/>
<text x="79.33" y="21.90" font-size="23.5">6</text>
<text x="79.33" y="48.40" font-size="23.5">5</text>
<text x="79.33" y="80.90" font-size="23.5">4</text>
<text x="79.33" y="113.40" font-size="23.5">3</text>
<text x="79.33" y="145.70" font-size="23.5">2</text>
<text x="79.33" y="178.30" font-size="23.5"> </text><path d="M87.77,161.78L87.77,178.30L85.70,178.30L85.70,166.55L81.70,166.55L81.70,165.02C84.15,164.86 85.63,163.85 86.15,161.78Z" fill="#000" stroke="#000" stroke-width="0.3"/>
<text x="79.33" y="202.60" font-size="23.5">0</text>
<text x="59.73" y="271.60" font-size="23.5">0.9</text>
<text x="59.73" y="320.40" font-size="23.5">0.8</text>
<text x="59.73" y="369.40" font-size="23.5">0.7</text>
<text x="59.73" y="410.10" font-size="23.5">0.6</text>
<text x="46.66" y="436.60" font-size="23.5">0. 5</text><path d="M74.70,420.08L74.70,436.60L72.63,436.60L72.63,424.85L68.63,424.85L68.63,423.32C71.08,423.16 72.56,422.15 73.08,420.08Z" fill="#000" stroke="#000" stroke-width="0.3"/>
<text x="46.66" y="469.10" font-size="23.5">0. 0</text><path d="M74.70,452.58L74.70,469.10L72.63,469.10L72.63,457.35L68.63,457.35L68.63,455.82C71.08,455.66 72.56,454.65 73.08,452.58Z" fill="#000" stroke="#000" stroke-width="0.3"/>
<text x="46.66" y="507.90" font-size="23.5">0.05</text>
<text x="46.66" y="546.80" font-size="23.5">0.00</text>
<text x="38.84" y="585.70" font-size="23.5">-0.05</text>
<text x="38.84" y="617.70" font-size="23.5">-0. 0</text><path d="M74.70,601.18L74.70,617.70L72.63,617.70L72.63,605.95L68.63,605.95L68.63,604.42C71.08,604.26 72.56,603.25 73.08,601.18Z" fill="#000" stroke="#000" stroke-width="0.3"/>
<text x="46.66" y="642.70" font-size="23.5">0.05</text>
<text x="46.66" y="668.10" font-size="23.5">0.00</text>
<text x="38.84" y="694.60" font-size="23.5">-0.05</text>
<text x="515.10" y="21.60" font-size="23.5">8</text>
<text x="515.10" y="64.70" font-size="23.5">6</text>
<text x="515.10" y="113.50" font-size="23.5">4</text>
<text x="515.10" y="162.30" font-size="23.5">2</text>
<text x="515.10" y="202.60" font-size="23.5">0</text>
<text x="515.10" y="228.80" font-size="23.5"> .0</text><path d="M523.54,212.28L523.54,228.80L521.47,228.80L521.47,217.05L517.47,217.05L517.47,215.52C519.92,215.36 521.40,214.35 521.92,212.28Z" fill="#000" stroke="#000" stroke-width="0.3"/>
<text x="515.10" y="278.30" font-size="23.5">0.9</text>
<text x="515.10" y="334.40" font-size="23.5">0.8</text>
<text x="515.10" y="390.00" font-size="23.5">0.7</text>
<text x="515.10" y="436.60" font-size="23.5">0. 5</text><path d="M543.14,420.08L543.14,436.60L541.07,436.60L541.07,424.85L537.07,424.85L537.07,423.32C539.52,423.16 541.00,422.15 541.51,420.08Z" fill="#000" stroke="#000" stroke-width="0.3"/>
<text x="515.10" y="469.10" font-size="23.5">0. 0</text><path d="M543.14,452.58L543.14,469.10L541.07,469.10L541.07,457.35L537.07,457.35L537.07,455.82C539.52,455.66 541.00,454.65 541.51,452.58Z" fill="#000" stroke="#000" stroke-width="0.3"/>
<text x="515.10" y="507.90" font-size="23.5">0.05</text>
<text x="515.10" y="546.80" font-size="23.5">0.00</text>
<text x="515.10" y="585.70" font-size="23.5">-0.05</text>
<text x="515.10" y="617.70" font-size="23.5">-0. 0</text><path d="M550.96,601.18L550.96,617.70L548.89,617.70L548.89,605.95L544.90,605.95L544.90,604.42C547.34,604.26 548.82,603.25 549.34,601.18Z" fill="#000" stroke="#000" stroke-width="0.3"/>
<text x="515.10" y="654.40" font-size="23.5">0.05</text>
<text x="515.10" y="675.90" font-size="23.5">0.00</text>
<text x="515.10" y="698.10" font-size="23.5">-0.05</text>
<text x="79.60" y="728.50" font-size="23.5"> 00</text><path d="M88.03,711.98L88.03,728.50L85.96,728.50L85.96,716.75L81.97,716.75L81.97,715.22C84.41,715.06 85.89,714.05 86.41,711.98Z" fill="#000" stroke="#000" stroke-width="0.3"/>
<text x="128.60" y="728.50" font-size="23.5"> 50</text><path d="M137.03,711.98L137.03,728.50L134.96,728.50L134.96,716.75L130.97,716.75L130.97,715.22C133.41,715.06 134.89,714.05 135.41,711.98Z" fill="#000" stroke="#000" stroke-width="0.3"/>
<text x="177.60" y="728.50" font-size="23.5">200</text>
<text x="226.60" y="728.50" font-size="23.5">250</text>
<text x="342.60" y="728.50" font-size="23.5"> 50</text><path d="M351.03,711.98L351.03,728.50L348.96,728.50L348.96,716.75L344.97,716.75L344.97,715.22C347.41,715.06 348.89,714.05 349.41,711.98Z" fill="#000" stroke="#000" stroke-width="0.3"/>
<text x="391.60" y="728.50" font-size="23.5">200</text>
<text x="440.60" y="728.50" font-size="23.5">250</text>
<text x="489.60" y="728.50" font-size="23.5">300</text>
<text x="134.82" y="753.50" font-size="23.5">v</text>
<text x="146.55" y="759.30" font-size="14.0">LSR</text>
<text x="181.92" y="753.50" font-size="23.5">[km</text>
<text x="227.75" y="753.50" font-size="23.5">s</text>
<text x="239.68" y="742.70" font-size="14.0">- </text><path d="M249.37,732.86L249.37,742.70L248.13,742.70L248.13,735.70L245.75,735.70L245.75,734.79C247.21,734.69 248.09,734.09 248.40,732.86Z" fill="#000" stroke="#000" stroke-width="0.3"/>
<text x="253.12" y="753.50" font-size="23.5">]</text>
<text x="349.12" y="753.50" font-size="23.5">v</text>
<text x="360.85" y="759.30" font-size="14.0">LSR</text>
<text x="396.22" y="753.50" font-size="23.5">[km</text>
<text x="442.05" y="753.50" font-size="23.5">s</text>
<text x="453.98" y="742.70" font-size="14.0">- </text><path d="M463.67,732.86L463.67,742.70L462.43,742.70L462.43,735.70L460.05,735.70L460.05,734.79C461.51,734.69 462.39,734.09 462.70,732.86Z" fill="#000" stroke="#000" stroke-width="0.3"/>
<text x="467.42" y="753.50" font-size="23.5">]</text>
<g transform="translate(23.10,464.67) rotate(-90)"><text x="0.00" y="0.00" font-size="23.5">I</text></g>
<g transform="translate(28.80,457.73) rotate(-90)"><text x="0.00" y="0.00" font-size="15.0">Hα</text></g>
<g transform="translate(23.10,430.98) rotate(-90)"><text x="0.00" y="0.00" font-size="23.5">[ADU/(km</text></g>
<g transform="translate(23.10,320.15) rotate(-90)"><text x="0.00" y="0.00" font-size="23.5">s</text></g>
<g transform="translate(11.90,308.12) rotate(-90)"><text x="0.00" y="0.00" font-size="14.0">- </text><path d="M9.69,-9.84L9.69,0.00L8.46,0.00L8.46,-7.00L6.08,-7.00L6.08,-7.91C7.53,-8.01 8.41,-8.61 8.72,-9.84Z" fill="#000" stroke="#000" stroke-width="0.3"/></g>
<g transform="translate(23.10,294.34) rotate(-90)"><text x="0.00" y="0.00" font-size="23.5">)]</text></g>
<g transform="translate(586.90,464.67) rotate(-90)"><text x="0.00" y="0.00" font-size="23.5">I</text></g>
<g transform="translate(592.60,457.73) rotate(-90)"><text x="0.00" y="0.00" font-size="15.0">Hα</text></g>
<g transform="translate(586.90,430.98) rotate(-90)"><text x="0.00" y="0.00" font-size="23.5">[ADU/(km</text></g>
<g transform="translate(586.90,320.15) rotate(-90)"><text x="0.00" y="0.00" font-size="23.5">s</text></g>
<g transform="translate(575.70,308.12) rotate(-90)"><text x="0.00" y="0.00" font-size="14.0">- </text><path d="M9.69,-9.84L9.69,0.00L8.46,0.00L8.46,-7.00L6.08,-7.00L6.08,-7.91C7.53,-8.01 8.41,-8.61 8.72,-9.84Z" fill="#000" stroke="#000" stroke-width="0.3"/></g>
<g transform="translate(586.90,294.34) rotate(-90)"><text x="0.00" y="0.00" font-size="23.5">)]</text></g>
</svg></body></html>
